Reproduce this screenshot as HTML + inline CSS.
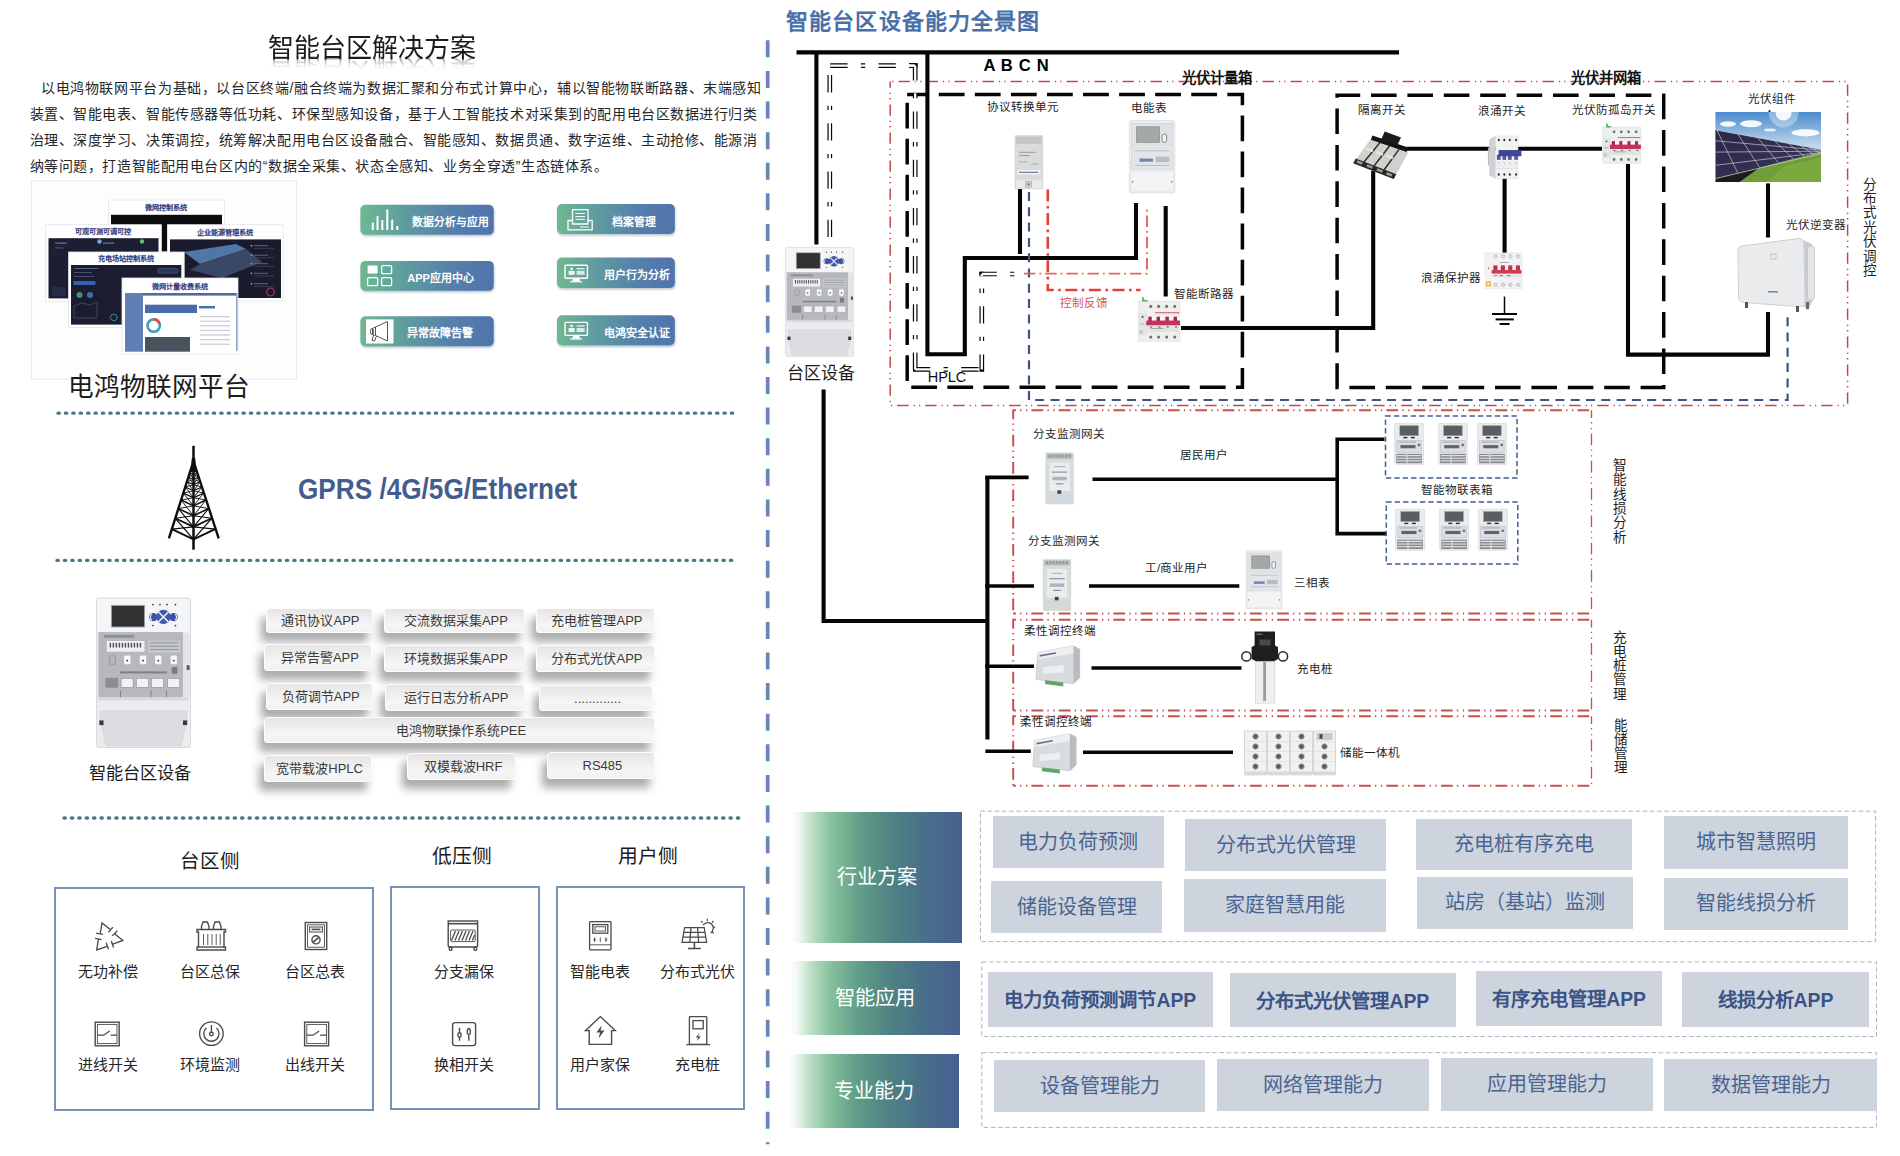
<!DOCTYPE html>
<html lang="zh-CN">
<head>
<meta charset="utf-8">
<title>智能台区解决方案</title>
<style>
html,body{margin:0;padding:0;background:#fff;}
body{width:1900px;height:1156px;overflow:hidden;position:relative;font-family:"Liberation Sans",sans-serif;}
#pg{position:absolute;left:0;top:0;width:1900px;height:1156px;overflow:hidden;background:#fff;}
svg.bg{position:absolute;left:0;top:0;}
.t{position:absolute;transform:translate(-50%,-50%);white-space:nowrap;line-height:1;}
.tl{position:absolute;transform:translate(0,-50%);white-space:nowrap;line-height:1;}
.pl{position:absolute;white-space:nowrap;line-height:1;font-size:14px;color:#262626;text-align:justify;text-align-last:justify;transform:translate(0,-50%);}
.chip{position:absolute;box-sizing:border-box;border:1px solid #fdfdfd;border-radius:4px;background:linear-gradient(#e7e5e5,#f6f6f6 70%,#f1f1f1);box-shadow:-5px 9px 8px rgba(70,70,70,.45);font-size:13px;color:#3a3a3a;text-align:center;white-space:nowrap;}
.gchip{position:absolute;background:#cdd4de;color:#4d6c9c;text-align:center;white-space:nowrap;font-size:19.5px;}
.glab{position:absolute;color:#fff;text-align:center;white-space:nowrap;font-size:20px;background:linear-gradient(90deg,#ffffff 0%,#f2f9f3 4%,#bfe0c8 12%,#86c09c 24%,#5f9c88 41%,#4f8283 59%,#48708a 78%,#46608f 100%);}
.dbox{position:absolute;box-sizing:border-box;border:1px dashed #b4bcc6;}
.bbox{position:absolute;box-sizing:border-box;border:2px solid #7590ba;}
</style>
</head>
<body>
<div id="pg">
<svg class="bg" width="1900" height="1156" viewBox="0 0 1900 1156">
<defs>
<linearGradient id="gbtn" x1="0" y1="0" x2="1" y2="0"><stop offset="0" stop-color="#6fb892"/><stop offset="0.35" stop-color="#5f9aa0"/><stop offset="0.7" stop-color="#557fac"/><stop offset="1" stop-color="#4f74ab"/></linearGradient>
<linearGradient id="gsky" x1="0" y1="0" x2="0" y2="1"><stop offset="0" stop-color="#4a8bcc"/><stop offset="0.55" stop-color="#cfe2f0"/><stop offset="1" stop-color="#e4eef5"/></linearGradient>
<linearGradient id="gpan" x1="0" y1="0" x2="1" y2="1"><stop offset="0" stop-color="#2a2747"/><stop offset="1" stop-color="#3a3658"/></linearGradient>
<linearGradient id="gdev" x1="0" y1="0" x2="1" y2="0"><stop offset="0" stop-color="#eef0f2"/><stop offset="1" stop-color="#d9dce0"/></linearGradient>
<filter id="sh" x="-10%" y="-20%" width="120%" height="150%"><feGaussianBlur stdDeviation="1.2"/></filter>
</defs>
<rect x="31.50" y="181.00" width="265.00" height="198.00" rx="0" fill="#fdfdfd" stroke="#e9e9ec" stroke-width="1" />
<rect x="108.40" y="200.00" width="116.00" height="26.00" rx="0" fill="#ffffff" stroke="#e3e4e8" stroke-width="0.8" />
<rect x="111.00" y="214.80" width="111.00" height="11.00" rx="0" fill="#0c0c10" />
<rect x="161.30" y="225.00" width="6.10" height="26.50" rx="0" fill="#0c0c10" />
<rect x="45.60" y="224.70" width="115.70" height="77.00" rx="0" fill="#ffffff" stroke="#e3e4e8" stroke-width="0.8" />
<rect x="48.50" y="238.20" width="110.00" height="60.20" rx="0" fill="#1c1e33" />
<circle cx="99.5" cy="241.5" r="2.2" fill="#7aa4e0"/><circle cx="142" cy="241.5" r="2.2" fill="#5fc07a"/>
<rect x="167.40" y="224.70" width="115.60" height="76.30" rx="0" fill="#ffffff" stroke="#e3e4e8" stroke-width="0.8" />
<rect x="170.00" y="239.40" width="111.00" height="58.60" rx="0" fill="#1a1c2e" />
<polygon points="184,252 236,244 246,249 200,264" fill="#4f78a8"/><polygon points="200,264 246,249 262,262 222,278 190,270" fill="#3b4767"/>
<circle cx="270.5" cy="292" r="4" fill="none" stroke="#d0506a" stroke-width="0.8"/>
<rect x="68.60" y="252.00" width="115.60" height="75.50" rx="0" fill="#ffffff" stroke="#e3e4e8" stroke-width="0.8" />
<rect x="71.00" y="265.00" width="110.30" height="59.60" rx="0" fill="#1b1c30" />
<circle cx="79.5" cy="295" r="3" fill="#3f8f7a"/><circle cx="90" cy="295" r="3" fill="#3f6f9f"/>
<rect x="73.5" y="281" width="22" height="4" fill="#3a5fb0"/>
<path d="M74 306 L82 303 L90 305 L97 302 L97 318 L74 318Z" fill="none" stroke="#566" stroke-width="0.6"/>
<rect x="122.00" y="278.00" width="116.00" height="76.00" rx="0" fill="#ffffff" stroke="#dfe1e6" stroke-width="0.8" />
<rect x="125.00" y="293.00" width="18.00" height="58.70" rx="0" fill="#5f7fb5" />
<rect x="143.00" y="293.00" width="93.00" height="2.60" rx="0" fill="#4d6aa5" />
<rect x="145.00" y="304.70" width="52.00" height="8.30" rx="0" fill="#4a6aa8" />
<rect x="145.00" y="337.00" width="45.00" height="14.70" rx="0" fill="#4a5260" />
<circle cx="153.7" cy="325.6" r="6.2" fill="none" stroke="#3fa0b8" stroke-width="2.6"/><path d="M153.7 319.4 A6.2 6.2 0 0 1 159.6 323.7" fill="none" stroke="#d85050" stroke-width="2.6"/>
<rect x="200.00" y="316.00" width="30.00" height="1.30" rx="0" fill="#c9ced8" />
<rect x="200.00" y="320.60" width="30.00" height="1.30" rx="0" fill="#c9ced8" />
<rect x="200.00" y="325.20" width="30.00" height="1.30" rx="0" fill="#c9ced8" />
<rect x="200.00" y="329.80" width="30.00" height="1.30" rx="0" fill="#c9ced8" />
<rect x="200.00" y="334.40" width="30.00" height="1.30" rx="0" fill="#c9ced8" />
<rect x="200.00" y="339.00" width="30.00" height="1.30" rx="0" fill="#c9ced8" />
<rect x="200.00" y="343.60" width="30.00" height="1.30" rx="0" fill="#c9ced8" />
<rect x="199.00" y="306.00" width="16.00" height="2.40" rx="0" fill="#4a6aa8" />
<rect x="236.00" y="293.00" width="1.50" height="58.00" rx="0" fill="#8aa0c8" />
<circle cx="251.5" cy="245.7" r="0.9" fill="#8fa0c8"/><rect x="254" y="245.2" width="14" height="1" fill="#5a6486"/><rect x="254" y="247.89999999999998" width="20" height="0.8" fill="#3c4463"/>
<circle cx="251.5" cy="255.2" r="0.9" fill="#8fa0c8"/><rect x="254" y="254.7" width="14" height="1" fill="#5a6486"/><rect x="254" y="257.4" width="20" height="0.8" fill="#3c4463"/>
<circle cx="251.5" cy="263.7" r="0.9" fill="#8fa0c8"/><rect x="254" y="263.2" width="14" height="1" fill="#5a6486"/><rect x="254" y="265.9" width="20" height="0.8" fill="#3c4463"/>
<circle cx="251.5" cy="273.3" r="0.9" fill="#8fa0c8"/><rect x="254" y="272.8" width="14" height="1" fill="#5a6486"/><rect x="254" y="275.5" width="20" height="0.8" fill="#3c4463"/>
<circle cx="251.5" cy="283.7" r="0.9" fill="#8fa0c8"/><rect x="254" y="283.2" width="14" height="1" fill="#5a6486"/><rect x="254" y="285.9" width="20" height="0.8" fill="#3c4463"/>
<rect x="157.5" y="268.4" width="21" height="4.8" rx="2.2" fill="#2a3658" stroke="#5a6a9a" stroke-width="0.5"/>
<circle cx="113.8" cy="317.4" r="3.3" fill="none" stroke="#3f9a9a" stroke-width="0.9"/>
<rect x="74" y="268" width="24" height="1" fill="#56608a"/><rect x="74" y="272" width="18" height="1" fill="#454d74"/><rect x="74" y="276" width="20" height="1" fill="#454d74"/>
<rect x="55" y="242.6" width="12" height="1" fill="#7d86ab"/><rect x="55" y="247.5" width="8" height="0.9" fill="#5c648a"/><rect x="103" y="242.6" width="11" height="1" fill="#7d86ab"/>
<rect x="52" y="287" width="14" height="9" fill="#262b48"/>
<rect x="361.0" y="206.4" width="133.3" height="29.9" rx="5" fill="#5f7890" opacity=".45" filter="url(#sh)"/>
<rect x="360.4" y="204.8" width="133.3" height="29.9" rx="5" fill="url(#gbtn)"/>
<rect x="361.0" y="262.5" width="133.3" height="29.8" rx="5" fill="#5f7890" opacity=".45" filter="url(#sh)"/>
<rect x="360.4" y="260.9" width="133.3" height="29.8" rx="5" fill="url(#gbtn)"/>
<rect x="361.0" y="317.90000000000003" width="133.3" height="29.9" rx="5" fill="#5f7890" opacity=".45" filter="url(#sh)"/>
<rect x="360.4" y="316.3" width="133.3" height="29.9" rx="5" fill="url(#gbtn)"/>
<rect x="557.6" y="205.6" width="117.8" height="30" rx="5" fill="#5f7890" opacity=".45" filter="url(#sh)"/>
<rect x="557" y="204" width="117.8" height="30" rx="5" fill="url(#gbtn)"/>
<rect x="557.6" y="259.20000000000005" width="117.8" height="30.4" rx="5" fill="#5f7890" opacity=".45" filter="url(#sh)"/>
<rect x="557" y="257.6" width="117.8" height="30.4" rx="5" fill="url(#gbtn)"/>
<rect x="557.6" y="316.90000000000003" width="117.8" height="30" rx="5" fill="#5f7890" opacity=".45" filter="url(#sh)"/>
<rect x="557" y="315.3" width="117.8" height="30" rx="5" fill="url(#gbtn)"/>
<rect x="371.8" y="222.5" width="2" height="7.5" rx="0.6" fill="#fff"/>
<rect x="376.5" y="216" width="2" height="14.0" rx="0.6" fill="#fff"/>
<rect x="381.3" y="220" width="2" height="10.0" rx="0.6" fill="#fff"/>
<rect x="386.3" y="209.6" width="2" height="20.4" rx="0.6" fill="#fff"/>
<rect x="391.2" y="219.5" width="2" height="10.5" rx="0.6" fill="#fff"/>
<rect x="396.3" y="226" width="2" height="4.0" rx="0.6" fill="#fff"/>
<rect x="367.6" y="265.6" width="10" height="8" rx="1" fill="#fff"/>
<rect x="381.6" y="265.6" width="10" height="8" rx="1.2" fill="none" stroke="#fff" stroke-width="1.3"/>
<rect x="367.6" y="277.6" width="10" height="8" rx="1.2" fill="none" stroke="#fff" stroke-width="1.3"/>
<rect x="381.6" y="277.6" width="10" height="8" rx="1.2" fill="none" stroke="#fff" stroke-width="1.3"/>
<rect x="366.00" y="319.40" width="27.50" height="24.10" rx="0" fill="#ffffff" />
<g fill="none" stroke="#555" stroke-width="1" stroke-linejoin="round"><path d="M372.5 328.5 L375.5 327 L387.5 321.5 L387.5 341 L375.5 335.5 L372.5 334.5 Z"/><path d="M375.5 327 V335.5"/><path d="M373.5 335 L372 340.5 L374.5 341 L376.5 336"/><ellipse cx="372" cy="331.5" rx="1.6" ry="3"/></g>
<g fill="none" stroke="#fff" stroke-width="1.3" stroke-linejoin="round"><path d="M572.5 221 V209.6 H588 V221"/><path d="M575.5 213.5 H585 M575.5 216.5 H585 M575.5 219.3 H585" stroke-width="1"/><path d="M568 220.5 H572.5 V224 H588 V220.5 H592.2 V229.8 H568 Z"/><path d="M580 227 H589" stroke-width="1"/></g>
<g><rect x="565" y="265.2" width="22.4" height="13" rx="0.8" fill="none" stroke="#fff" stroke-width="1.4"/><path d="M573.2 278.8 H579.2 L580.2 281.2 H572.2 Z" fill="#fff"/><rect x="570.2" y="281.2" width="12" height="1.2" fill="#fff"/><circle cx="571.6" cy="268.8" r="1.2" fill="#fff"/><rect x="568.6" y="270.8" width="6" height="4" fill="#fff" opacity=".9"/><rect x="576.6" y="268.2" width="8" height="1.1" fill="#fff"/><rect x="576.6" y="270.8" width="8" height="4" fill="#fff" opacity=".75"/></g>
<g><rect x="565" y="322.4" width="22.4" height="13" rx="0.8" fill="none" stroke="#fff" stroke-width="1.4"/><path d="M573.2 336.0 H579.2 L580.2 338.4 H572.2 Z" fill="#fff"/><rect x="570.2" y="338.4" width="12" height="1.2" fill="#fff"/><circle cx="571.6" cy="326.0" r="1.2" fill="#fff"/><rect x="568.6" y="328.0" width="6" height="4" fill="#fff" opacity=".9"/><rect x="576.6" y="325.4" width="8" height="1.1" fill="#fff"/><rect x="576.6" y="328.0" width="8" height="4" fill="#fff" opacity=".75"/></g>
<path d="M767.7 40.3 L767.7 1144.2" fill="none" stroke="#6886b6" stroke-width="3.7" stroke-linecap="butt" stroke-linejoin="miter" stroke-dasharray="17 13.61" />
<path d="M58 413.2 L734 413.2" fill="none" stroke="#4b7a82" stroke-width="3.3" stroke-linecap="round" stroke-linejoin="miter" stroke-dasharray="1.3 6.1" />
<path d="M57 560.4 L733 560.4" fill="none" stroke="#4b7a82" stroke-width="3.3" stroke-linecap="round" stroke-linejoin="miter" stroke-dasharray="1.3 6.1" />
<path d="M64 818 L739.5 818" fill="none" stroke="#4b7a82" stroke-width="3.3" stroke-linecap="round" stroke-linejoin="miter" stroke-dasharray="1.3 6.1" />
<g fill="none" stroke="#0d0d0d" stroke-linecap="butt" stroke-linejoin="round"><path d="M193.5 445.8 V549.7" stroke-width="2.5"/><path d="M191.9 458 L195.1 458 L196.9 472 L190.1 472 Z" fill="#0d0d0d" stroke="none"/><path d="M191.9 466 L168.9 538.4 M195.1 466 L218.7 538.4" stroke-width="2.4"/><path d="M189.8 472.5 L193.5 474.1 L197.2 472.5" stroke-width="1.01"/><path d="M189.8 472.5 L193.5 479.3 M197.2 472.5 L193.5 479.3" stroke-width="0.90"/><path d="M193.5 474.1 L188.4 477 M193.5 474.1 L198.6 477" stroke-width="0.90"/><path d="M188.4 477 L193.5 479.3 L198.6 477" stroke-width="1.08"/><path d="M188.4 477 L193.5 484.8 M198.6 477 L193.5 484.8" stroke-width="0.90"/><path d="M193.5 479.3 L186.9 481.8 M193.5 479.3 L200.1 481.8" stroke-width="0.90"/><path d="M186.9 481.8 L193.5 484.8 L200.1 481.8" stroke-width="1.15"/><path d="M186.9 481.8 L193.5 490.8 M200.1 481.8 L193.5 490.8" stroke-width="0.90"/><path d="M193.5 484.8 L185.2 487 M193.5 484.8 L201.8 487" stroke-width="0.90"/><path d="M185.2 487 L193.5 490.8 L201.8 487" stroke-width="1.24"/><path d="M185.2 487 L193.5 497.8 M201.8 487 L193.5 497.8" stroke-width="0.90"/><path d="M193.5 490.8 L183.3 493 M193.5 490.8 L203.7 493" stroke-width="0.90"/><path d="M183.3 493 L193.5 497.8 L203.7 493" stroke-width="1.33"/><path d="M183.3 493 L193.5 505.8 M203.7 493 L193.5 505.8" stroke-width="0.90"/><path d="M193.5 497.8 L181.1 500 M193.5 497.8 L205.9 500" stroke-width="0.90"/><path d="M181.1 500 L193.5 505.8 L205.9 500" stroke-width="1.44"/><path d="M181.1 500 L193.5 515.8 M205.9 500 L193.5 515.8" stroke-width="0.94"/><path d="M193.5 505.8 L178.4 508.6 M193.5 505.8 L208.6 508.6" stroke-width="0.94"/><path d="M178.4 508.6 L193.5 515.8 L208.6 508.6" stroke-width="1.58"/><path d="M178.4 508.6 L193.5 526.9 M208.6 508.6 L193.5 526.9" stroke-width="1.08"/><path d="M193.5 515.8 L175.3 518.3 M193.5 515.8 L211.7 518.3" stroke-width="1.08"/><path d="M175.3 518.3 L193.5 526.9 L211.7 518.3" stroke-width="1.73"/><path d="M175.3 518.3 L193.5 539.4 M211.7 518.3 L193.5 539.4" stroke-width="1.23"/><path d="M193.5 526.9 L171.9 529.1 M193.5 526.9 L215.1 529.1" stroke-width="1.23"/><path d="M171.9 529.1 L193.5 539.4 L215.1 529.1" stroke-width="1.90"/></g>
<g transform="translate(96.5,598) scale(0.94,0.934375)"><rect x="0" y="0" width="100" height="160" rx="2" fill="#ececef" stroke="#d0d2d6" stroke-width="0.8"/><rect x="1" y="1" width="98" height="35.5" fill="#f4f5f7"/><rect x="16" y="8" width="35" height="23" fill="#2f3133" stroke="#9a9c9f" stroke-width="1"/><circle cx="60.5" cy="20.5" r="4.4" fill="#3c52a0"/><circle cx="82" cy="20.5" r="4.4" fill="#3c52a0"/><ellipse cx="71.2" cy="20.3" rx="7.6" ry="7.6" fill="#4059ab"/><path d="M66 15 L76.4 25.6 M76.4 15 L66 25.6" stroke="#e8ebf6" stroke-width="1.7"/><path d="M59 17.5 A3.5 3.5 0 0 0 59 23.5 M83.5 17.5 A3.5 3.5 0 0 1 83.5 23.5" stroke="#e8ebf6" stroke-width="1.2" fill="none"/><circle cx="60" cy="7" r="0.9" fill="#334"/><circle cx="67.5" cy="7" r="0.9" fill="#334"/><circle cx="75" cy="7" r="0.9" fill="#334"/><circle cx="84" cy="7" r="0.9" fill="#334"/><circle cx="60" cy="29.5" r="0.9" fill="#334"/><circle cx="84" cy="29.5" r="0.9" fill="#334"/><rect x="2" y="36.5" width="90" height="70" fill="#b6b8bc"/><rect x="92" y="38" width="7" height="68" fill="#e3e4e7"/><rect x="96" y="72" width="3" height="5" fill="#555"/><rect x="11" y="46" width="40" height="11.5" fill="#eeeff1"/><rect x="55" y="45.5" width="34" height="13" fill="#c6c8cc"/><rect x="8" y="39.5" width="32" height="3" fill="#8d9096"/><rect x="14.0" y="48" width="1.5" height="5" fill="#4a4c50"/><rect x="17.2" y="48" width="1.5" height="5" fill="#4a4c50"/><rect x="20.4" y="48" width="1.5" height="5" fill="#4a4c50"/><rect x="23.6" y="48" width="1.5" height="5" fill="#4a4c50"/><rect x="26.8" y="48" width="1.5" height="5" fill="#4a4c50"/><rect x="30.0" y="48" width="1.5" height="5" fill="#4a4c50"/><rect x="33.2" y="48" width="1.5" height="5" fill="#4a4c50"/><rect x="36.400000000000006" y="48" width="1.5" height="5" fill="#4a4c50"/><rect x="39.6" y="48" width="1.5" height="5" fill="#4a4c50"/><rect x="42.8" y="48" width="1.5" height="5" fill="#4a4c50"/><rect x="46.0" y="48" width="1.5" height="5" fill="#4a4c50"/><rect x="57" y="47.5" width="30" height="1" fill="#8f9298"/><rect x="57" y="51.1" width="30" height="1" fill="#8f9298"/><rect x="57" y="54.7" width="30" height="1" fill="#8f9298"/><rect x="14" y="62" width="6" height="9" rx="1" fill="none" stroke="#8a8d92" stroke-width="0.8"/><rect x="29.300000000000004" y="61.5" width="6.8" height="9.5" rx="1.5" fill="#f6f7f8"/><circle cx="32.7" cy="67" r="1" fill="#333"/><rect x="46.1" y="61.5" width="6.8" height="9.5" rx="1.5" fill="#f6f7f8"/><circle cx="49.5" cy="67" r="1" fill="#333"/><rect x="62.300000000000004" y="61.5" width="6.8" height="9.5" rx="1.5" fill="#f6f7f8"/><circle cx="65.7" cy="67" r="1" fill="#333"/><rect x="78.8" y="61.5" width="6.8" height="9.5" rx="1.5" fill="#f6f7f8"/><circle cx="82.2" cy="67" r="1" fill="#333"/><rect x="25" y="78.5" width="50" height="2.2" fill="#7e8187"/><rect x="80" y="74" width="6" height="7" fill="#777a80"/><rect x="9.5" y="85.5" width="13.5" height="10.5" fill="#8b8d92"/><rect x="26.2" y="86" width="12.8" height="9.6" fill="#f1f2f4" stroke="#8c8f95" stroke-width="0.6"/><rect x="42.4" y="86" width="12.8" height="9.6" fill="#f1f2f4" stroke="#8c8f95" stroke-width="0.6"/><rect x="58.5" y="86" width="12.8" height="9.6" fill="#f1f2f4" stroke="#8c8f95" stroke-width="0.6"/><rect x="75.8" y="86" width="12.8" height="9.6" fill="#f1f2f4" stroke="#8c8f95" stroke-width="0.6"/><rect x="25" y="99" width="0.9" height="9" fill="#777"/><rect x="57.5" y="99" width="0.9" height="9" fill="#777"/><rect x="74" y="99" width="0.9" height="9" fill="#777"/><rect x="1" y="106.5" width="98" height="52.5" fill="#ececee"/><path d="M4 121 H96 V132 L90 158 H10 L4 132 Z" fill="#dcdde0" stroke="#cfd1d5" stroke-width="0.8"/><rect x="2" y="106.5" width="96" height="3" fill="#d6d8dc"/><rect x="3" y="131" width="4.5" height="5" fill="#3a3a3c"/><rect x="92" y="131" width="4.5" height="5" fill="#3a3a3c"/></g>
<g fill="none" stroke="#4a4a4a" stroke-width="1.35" stroke-linejoin="miter" stroke-linecap="butt"><path d="M110.3 929.5 L102 923 L100.2 933.4"/><path d="M108.3 932.4 L112.9 927.2"/><path d="M96.2 933.2 L102.9 934.4"/><path d="M114.9 933.9 L122.9 940.4 L112.7 944.1"/><path d="M112.3 935.9 L117.3 930.8"/><path d="M111.3 941 L113.6 947.5"/><path d="M98.4 939.2 L96.7 949.9 L107.1 946.3"/><path d="M95.1 938.3 L101.6 939.7"/><path d="M106.2 942.6 L108.5 949.2"/></g>
<g fill="none" stroke="#4a4a4a" stroke-width="1.4" stroke-linejoin="miter" stroke-linecap="butt"><path d="M197 929.5 H225.5 V932 H224 V947 H225.5 V950 H197 V947 H198.5 V932 H197 Z"/><path d="M198.5 947 H224"/><path d="M201.5 929.5 V926.5 L203 922 H207.5 L209 926.5 V929.5 M213.5 929.5 V926.5 L215 922 H219.5 L221 926.5 V929.5"/><path d="M203.5 934 V945 M207.8 934 V945 M212 934 V945 M216.2 934 V945 M220.2 934 V945" stroke-width="0.9"/></g>
<g fill="none" stroke="#4a4a4a" stroke-width="1.4" stroke-linejoin="miter" stroke-linecap="butt"><rect x="305.3" y="922.5" width="21.4" height="27"/><rect x="307.6" y="924.8" width="16.8" height="22.4" stroke-width="0.9"/><rect x="309.6" y="927" width="12.8" height="5" stroke-width="1"/><rect x="311.5" y="928.6" width="9" height="1.6" fill="#4a4a4a" stroke="none"/><circle cx="316" cy="939.8" r="4.1"/><path d="M313.2 942.2 L318.8 937.4" stroke-width="1.6"/></g>
<g fill="none" stroke="#4a4a4a" stroke-width="1.4" stroke-linejoin="miter" stroke-linecap="butt"><rect x="95.2" y="1022.2" width="24" height="23.6"/><rect x="97.4" y="1024.4" width="19.6" height="19.2" stroke-width="0.9"/><path d="M97.4 1035.2 H103.7 L109.7 1031.0 M110.7 1035.2 H117.0" stroke-width="1.3"/></g>
<g fill="none" stroke="#4a4a4a" stroke-width="1.4" stroke-linejoin="miter" stroke-linecap="butt"><rect x="304.6" y="1022.2" width="24" height="23.6"/><rect x="306.8" y="1024.4" width="19.6" height="19.2" stroke-width="0.9"/><path d="M306.8 1035.2 H313.1 L319.1 1031.0 M320.1 1035.2 H326.40000000000003" stroke-width="1.3"/></g>
<g fill="none" stroke="#4a4a4a" stroke-width="1.35" stroke-linejoin="miter" stroke-linecap="butt"><circle cx="211.4" cy="1033.6" r="11.8"/><path d="M206.3 1028 A7.6 7.6 0 1 0 216.5 1028"/><path d="M211.4 1025 V1032"/><circle cx="211.4" cy="1034" r="1.8"/></g>
<g fill="none" stroke="#4a4a4a" stroke-width="1.4" stroke-linejoin="miter" stroke-linecap="butt"><rect x="448.2" y="921" width="29.4" height="2.6"/><rect x="448.2" y="923.6" width="29.4" height="23.4" rx="1.5"/><rect x="450.6" y="930" width="24.6" height="11.6" rx="1" stroke-width="0.9"/><path d="M451.5 940.5 L455.5 931 M455 940.5 L459 931 M458.5 940.5 L462.5 931 M462 940.5 L466 931 M465.5 940.5 L469.5 931 M469 940.5 L473 931 M472.4 940.5 L474.6 935" stroke-width="1.3"/><rect x="449.3" y="947" width="2.6" height="3.4" rx="1.2"/><rect x="474" y="947" width="2.6" height="3.4" rx="1.2"/></g>
<g fill="none" stroke="#4a4a4a" stroke-width="1.4" stroke-linejoin="miter" stroke-linecap="butt"><rect x="452.6" y="1022.6" width="23" height="23" rx="2.6"/><path d="M459.5 1027.8 V1032.8 M459.5 1037.2 V1040.8 M468.8 1027.8 V1029 M468.8 1034.4 V1040.8"/><rect x="458" y="1032.8" width="3" height="4.4" rx="1.4"/><rect x="467.3" y="1029" width="3" height="5.4" rx="1.4"/></g>
<g fill="none" stroke="#4a4a4a" stroke-width="1.3" stroke-linejoin="miter" stroke-linecap="butt"><rect x="589.6" y="921.6" width="21.4" height="28.2" rx="0.8"/><rect x="592.8" y="924.6" width="15" height="8.6"/><rect x="595" y="926.8" width="10.6" height="4.2" stroke-width="0.9"/><path d="M589.6 944.8 H611" stroke-width="0.9"/><path d="M594.6 937.4 V942 M600.3 937.4 V942 M606 937.4 V942" stroke-width="0.9"/><circle cx="594.6" cy="939.6" r="0.9" stroke-width="0.7"/><circle cx="606" cy="939.6" r="0.9" stroke-width="0.7"/></g>
<g fill="none" stroke="#4a4a4a" stroke-width="1.25" stroke-linejoin="miter" stroke-linecap="butt"><path d="M684.6 927.6 H704.2 L706.6 942.4 H682 Z"/><path d="M683.8 932.4 H705 M683 937.2 H705.8 M691 927.6 L689.8 942.4 M697.6 927.6 L698.6 942.4"/><path d="M694.4 942.4 V948 M688 948.4 H700.8" stroke-width="1.5"/><path d="M703 925.2 A5.6 5.6 0 1 1 710.6 933"/><path d="M707.3 918.8 V921 M701.2 921 L702.6 922.6 M713.4 921 L712 922.6 M715.2 927 H713.2 M713.6 933.4 L712.2 932"/></g>
<g fill="none" stroke="#4a4a4a" stroke-width="1.4" stroke-linejoin="miter" stroke-linecap="butt"><path d="M585.6 1030.6 L600.4 1016.6 L615.2 1030.6 H611.6 V1044.4 H589.2 V1030.6 Z"/></g>
<path d="M601.6 1025.4 L596.4 1032.6 H600 L598.6 1038.4 L604.4 1030.6 H600.6 Z" fill="#4a4a4a"/>
<g fill="none" stroke="#4a4a4a" stroke-width="1.3" stroke-linejoin="miter" stroke-linecap="butt"><rect x="689.4" y="1016.6" width="17.4" height="27.8" rx="0.8"/><rect x="693" y="1020.6" width="10.2" height="8.2"/><path d="M686.4 1044.6 H710.2"/></g>
<path d="M699 1033.4 L695.8 1037.6 H698 L697.2 1041 L700.8 1036.4 H698.4 Z" fill="#4a4a4a"/>
<rect x="890.20" y="81.50" width="957.40" height="323.90" rx="0" fill="none" stroke="#bd4a46" stroke-width="1.5" stroke-dasharray="11.4 5 1.3 4 1.3 5" stroke-dashoffset="19.7"/>
<path d="M1013.2 613.6 L1013.2 410.2 L1591.5 410.2" fill="none" stroke="#c6504c" stroke-width="2.0" stroke-linecap="butt" stroke-linejoin="miter" stroke-dasharray="11.7 4.2 1.3 4.6 1.3 4.2" stroke-dashoffset="24.00"/>
<path d="M1013.2 613.6 L1591.5 613.6" fill="none" stroke="#c6504c" stroke-width="2.0" stroke-linecap="butt" stroke-linejoin="miter" stroke-dasharray="11.7 4.2 1.3 4.6 1.3 4.2" stroke-dashoffset="9"/>
<path d="M1591.5 410.2 L1591.5 613.6" fill="none" stroke="#c6504c" stroke-width="1.3" stroke-linecap="butt" stroke-linejoin="miter" stroke-dasharray="11.7 4.2 1.3 4.6 1.3 4.2" stroke-dashoffset="4"/>
<path d="M1013.2 710.5 L1013.2 619.8 L1591.5 619.8" fill="none" stroke="#c6504c" stroke-width="2.0" stroke-linecap="butt" stroke-linejoin="miter" stroke-dasharray="11.7 4.2 1.3 4.6 1.3 4.2" stroke-dashoffset="0.20"/>
<path d="M1013.2 710.5 L1591.5 710.5" fill="none" stroke="#c6504c" stroke-width="2.0" stroke-linecap="butt" stroke-linejoin="miter" stroke-dasharray="11.7 4.2 1.3 4.6 1.3 4.2" stroke-dashoffset="9"/>
<path d="M1591.5 619.8 L1591.5 710.5" fill="none" stroke="#c6504c" stroke-width="1.3" stroke-linecap="butt" stroke-linejoin="miter" stroke-dasharray="11.7 4.2 1.3 4.6 1.3 4.2" stroke-dashoffset="4"/>
<path d="M1013.2 785.8 L1013.2 716.2 L1591.5 716.2" fill="none" stroke="#c6504c" stroke-width="2.0" stroke-linecap="butt" stroke-linejoin="miter" stroke-dasharray="11.7 4.2 1.3 4.6 1.3 4.2" stroke-dashoffset="21.30"/>
<path d="M1013.2 785.8 L1591.5 785.8" fill="none" stroke="#c6504c" stroke-width="2.0" stroke-linecap="butt" stroke-linejoin="miter" stroke-dasharray="11.7 4.2 1.3 4.6 1.3 4.2" stroke-dashoffset="9"/>
<path d="M1591.5 716.2 L1591.5 785.8" fill="none" stroke="#c6504c" stroke-width="1.3" stroke-linecap="butt" stroke-linejoin="miter" stroke-dasharray="11.7 4.2 1.3 4.6 1.3 4.2" stroke-dashoffset="4"/>
<rect x="907.20" y="94.40" width="335.20" height="292.80" rx="0" fill="none" stroke="#050505" stroke-width="3.5" stroke-dasharray="25.8 10.27" stroke-dashoffset="4.5"/>
<rect x="1337.10" y="95.20" width="326.60" height="292.20" rx="0" fill="none" stroke="#050505" stroke-width="3.5" stroke-dasharray="25.6 10.8" stroke-dashoffset="2.5"/>
<path d="M796.5 52.4 L1399 52.4" fill="none" stroke="#050505" stroke-width="4.1" stroke-linecap="butt" stroke-linejoin="miter" />
<path d="M816.4 52 L816.4 244.5" fill="none" stroke="#050505" stroke-width="4.1" stroke-linecap="butt" stroke-linejoin="miter" />
<path d="M927.4 52 L927.4 354.3 L964.8 354.3 L964.8 258 L1136 258 L1136 203" fill="none" stroke="#050505" stroke-width="4.1" stroke-linecap="butt" stroke-linejoin="miter" />
<path d="M1020 189 L1020 254" fill="none" stroke="#050505" stroke-width="4.1" stroke-linecap="butt" stroke-linejoin="miter" />
<path d="M1165.7 206 L1165.7 296.5" fill="none" stroke="#050505" stroke-width="4.1" stroke-linecap="butt" stroke-linejoin="miter" />
<path d="M1181 328 L1373.2 328 L1373.2 171" fill="none" stroke="#050505" stroke-width="4.1" stroke-linecap="butt" stroke-linejoin="miter" />
<path d="M1406.5 148.8 L1602 148.8" fill="none" stroke="#050505" stroke-width="4.1" stroke-linecap="butt" stroke-linejoin="miter" />
<path d="M1504.6 178.5 L1504.6 253" fill="none" stroke="#050505" stroke-width="4.1" stroke-linecap="butt" stroke-linejoin="miter" />
<path d="M1628 164 L1628 354.6 L1768 354.6 L1768 312" fill="none" stroke="#050505" stroke-width="4.1" stroke-linecap="butt" stroke-linejoin="miter" />
<path d="M1768 183.4 L1768 237.5" fill="none" stroke="#050505" stroke-width="4.1" stroke-linecap="butt" stroke-linejoin="miter" />
<path d="M1504.5 296.5 L1504.5 314" fill="none" stroke="#050505" stroke-width="1.5" stroke-linecap="butt" stroke-linejoin="miter" />
<path d="M1492 314 L1517 314" fill="none" stroke="#050505" stroke-width="2" stroke-linecap="butt" stroke-linejoin="miter" />
<path d="M1495.6 319.4 L1513.8 319.4" fill="none" stroke="#050505" stroke-width="2" stroke-linecap="butt" stroke-linejoin="miter" />
<path d="M1499.6 324 L1509.6 324" fill="none" stroke="#050505" stroke-width="2" stroke-linecap="butt" stroke-linejoin="miter" />
<path d="M823.6 389.5 L823.6 621 L987.4 621" fill="none" stroke="#050505" stroke-width="4.1" stroke-linecap="butt" stroke-linejoin="miter" />
<path d="M987.4 476 L987.4 739.6" fill="none" stroke="#050505" stroke-width="4.1" stroke-linecap="butt" stroke-linejoin="miter" />
<path d="M985.2 477.4 L1028.6 477.4" fill="none" stroke="#050505" stroke-width="3.6" stroke-linecap="butt" stroke-linejoin="miter" />
<path d="M985.2 586 L1034 586" fill="none" stroke="#050505" stroke-width="3.6" stroke-linecap="butt" stroke-linejoin="miter" />
<path d="M985.2 666.2 L1034 666.2" fill="none" stroke="#050505" stroke-width="3.6" stroke-linecap="butt" stroke-linejoin="miter" />
<path d="M985.4 751.2 L1030.8 751.2" fill="none" stroke="#050505" stroke-width="3.6" stroke-linecap="butt" stroke-linejoin="miter" />
<path d="M1092.5 479.2 L1337.2 479.2" fill="none" stroke="#050505" stroke-width="3.6" stroke-linecap="butt" stroke-linejoin="miter" />
<path d="M1384.5 439.2 L1337.2 439.2 L1337.2 533.6 L1386 533.6" fill="none" stroke="#050505" stroke-width="3.6" stroke-linecap="butt" stroke-linejoin="miter" />
<path d="M1089 586 L1239.3 586" fill="none" stroke="#050505" stroke-width="3.6" stroke-linecap="butt" stroke-linejoin="miter" />
<path d="M1091.5 668 L1241.5 668" fill="none" stroke="#050505" stroke-width="3.6" stroke-linecap="butt" stroke-linejoin="miter" />
<path d="M1083 752.2 L1233 752.2" fill="none" stroke="#050505" stroke-width="3.6" stroke-linecap="butt" stroke-linejoin="miter" />
<path d="M830.3 65.6 L917.5 65.6" fill="none" stroke="#050505" stroke-width="4.7" stroke-linecap="butt" stroke-linejoin="miter" stroke-dasharray="17.3 13.3 4.3 13.3" />
<path d="M915.2 63.3 L915.2 371.7" fill="none" stroke="#050505" stroke-width="4.7" stroke-linecap="butt" stroke-linejoin="miter" stroke-dasharray="17.3 13.3 4.3 13.3" />
<path d="M913 369.4 L984.1 369.4" fill="none" stroke="#050505" stroke-width="4.7" stroke-linecap="butt" stroke-linejoin="miter" stroke-dasharray="17.3 13.3 4.3 13.3" />
<path d="M981.8 371.7 L981.8 271.7" fill="none" stroke="#050505" stroke-width="4.7" stroke-linecap="butt" stroke-linejoin="miter" stroke-dasharray="17.3 13.3 4.3 13.3" />
<path d="M979.5 274 L1024 274" fill="none" stroke="#050505" stroke-width="4.7" stroke-linecap="butt" stroke-linejoin="miter" stroke-dasharray="17.3 13.3 4.3 13.3" />
<path d="M829.8 75.1 L829.8 237" fill="none" stroke="#050505" stroke-width="4.7" stroke-linecap="butt" stroke-linejoin="miter" stroke-dasharray="17.3 13.3 4.3 13.3" />
<path d="M909 65.6 L917.5 65.6" fill="none" stroke="#050505" stroke-width="4.7" stroke-linecap="butt" stroke-linejoin="miter" />
<path d="M830.3 65.6 L915.2 65.6" fill="none" stroke="#fff" stroke-width="2.3" stroke-linecap="butt" stroke-linejoin="miter" stroke-dasharray="18.7 11.9 5.7 11.9" stroke-dashoffset="0.7"/>
<path d="M915.2 65.6 L915.2 369.4" fill="none" stroke="#fff" stroke-width="2.3" stroke-linecap="butt" stroke-linejoin="miter" stroke-dasharray="18.7 11.9 5.7 11.9" stroke-dashoffset="3.0"/>
<path d="M915.2 369.4 L981.8 369.4" fill="none" stroke="#fff" stroke-width="2.3" stroke-linecap="butt" stroke-linejoin="miter" stroke-dasharray="18.7 11.9 5.7 11.9" stroke-dashoffset="2.9"/>
<path d="M981.8 369.4 L981.8 274" fill="none" stroke="#fff" stroke-width="2.3" stroke-linecap="butt" stroke-linejoin="miter" stroke-dasharray="18.7 11.9 5.7 11.9" stroke-dashoffset="3.0"/>
<path d="M981.8 274 L1024 274" fill="none" stroke="#fff" stroke-width="2.3" stroke-linecap="butt" stroke-linejoin="miter" stroke-dasharray="18.7 11.9 5.7 11.9" stroke-dashoffset="3.0"/>
<path d="M829.8 75.1 L829.8 237" fill="none" stroke="#fff" stroke-width="2.3" stroke-linecap="butt" stroke-linejoin="miter" stroke-dasharray="18.7 11.9 5.7 11.9" stroke-dashoffset="0.7"/>
<path d="M909 65.6 L915.2 65.6" fill="none" stroke="#fff" stroke-width="2.3" stroke-linecap="butt" stroke-linejoin="miter" />
<path d="M1029 192 L1029 400 L1787.6 400 L1787.6 314" fill="none" stroke="#3d5286" stroke-width="2.2" stroke-linecap="butt" stroke-linejoin="miter" stroke-dasharray="9 6.3" />
<path d="M1047.8 189.5 L1047.8 290 L1140.5 290" fill="none" stroke="#e2403a" stroke-width="2.6" stroke-linecap="butt" stroke-linejoin="miter" stroke-dasharray="12 4.5 2.6 4.5" />
<path d="M1024 273.6 L1147 273.6 L1147 207" fill="none" stroke="#e8645e" stroke-width="1.9" stroke-linecap="butt" stroke-linejoin="miter" stroke-dasharray="11.4 4 1.8 4" />
<rect x="1385.50" y="416.00" width="131.50" height="62.00" rx="0" fill="none" stroke="#40608f" stroke-width="1.5" stroke-dasharray="5.4 3" />
<rect x="1386.30" y="502.00" width="131.50" height="62.00" rx="0" fill="none" stroke="#40608f" stroke-width="1.5" stroke-dasharray="5.4 3" />
<g transform="translate(785.4,247.4) scale(0.682,0.68125)"><rect x="0" y="0" width="100" height="160" rx="2" fill="#ececef" stroke="#d0d2d6" stroke-width="0.8"/><rect x="1" y="1" width="98" height="35.5" fill="#f4f5f7"/><rect x="16" y="8" width="35" height="23" fill="#2f3133" stroke="#9a9c9f" stroke-width="1"/><circle cx="60.5" cy="20.5" r="4.4" fill="#3c52a0"/><circle cx="82" cy="20.5" r="4.4" fill="#3c52a0"/><ellipse cx="71.2" cy="20.3" rx="7.6" ry="7.6" fill="#4059ab"/><path d="M66 15 L76.4 25.6 M76.4 15 L66 25.6" stroke="#e8ebf6" stroke-width="1.7"/><path d="M59 17.5 A3.5 3.5 0 0 0 59 23.5 M83.5 17.5 A3.5 3.5 0 0 1 83.5 23.5" stroke="#e8ebf6" stroke-width="1.2" fill="none"/><circle cx="60" cy="7" r="0.9" fill="#334"/><circle cx="67.5" cy="7" r="0.9" fill="#334"/><circle cx="75" cy="7" r="0.9" fill="#334"/><circle cx="84" cy="7" r="0.9" fill="#334"/><circle cx="60" cy="29.5" r="0.9" fill="#334"/><circle cx="84" cy="29.5" r="0.9" fill="#334"/><rect x="2" y="36.5" width="90" height="70" fill="#b6b8bc"/><rect x="92" y="38" width="7" height="68" fill="#e3e4e7"/><rect x="96" y="72" width="3" height="5" fill="#555"/><rect x="11" y="46" width="40" height="11.5" fill="#eeeff1"/><rect x="55" y="45.5" width="34" height="13" fill="#c6c8cc"/><rect x="8" y="39.5" width="32" height="3" fill="#8d9096"/><rect x="14.0" y="48" width="1.5" height="5" fill="#4a4c50"/><rect x="17.2" y="48" width="1.5" height="5" fill="#4a4c50"/><rect x="20.4" y="48" width="1.5" height="5" fill="#4a4c50"/><rect x="23.6" y="48" width="1.5" height="5" fill="#4a4c50"/><rect x="26.8" y="48" width="1.5" height="5" fill="#4a4c50"/><rect x="30.0" y="48" width="1.5" height="5" fill="#4a4c50"/><rect x="33.2" y="48" width="1.5" height="5" fill="#4a4c50"/><rect x="36.400000000000006" y="48" width="1.5" height="5" fill="#4a4c50"/><rect x="39.6" y="48" width="1.5" height="5" fill="#4a4c50"/><rect x="42.8" y="48" width="1.5" height="5" fill="#4a4c50"/><rect x="46.0" y="48" width="1.5" height="5" fill="#4a4c50"/><rect x="57" y="47.5" width="30" height="1" fill="#8f9298"/><rect x="57" y="51.1" width="30" height="1" fill="#8f9298"/><rect x="57" y="54.7" width="30" height="1" fill="#8f9298"/><rect x="14" y="62" width="6" height="9" rx="1" fill="none" stroke="#8a8d92" stroke-width="0.8"/><rect x="29.300000000000004" y="61.5" width="6.8" height="9.5" rx="1.5" fill="#f6f7f8"/><circle cx="32.7" cy="67" r="1" fill="#333"/><rect x="46.1" y="61.5" width="6.8" height="9.5" rx="1.5" fill="#f6f7f8"/><circle cx="49.5" cy="67" r="1" fill="#333"/><rect x="62.300000000000004" y="61.5" width="6.8" height="9.5" rx="1.5" fill="#f6f7f8"/><circle cx="65.7" cy="67" r="1" fill="#333"/><rect x="78.8" y="61.5" width="6.8" height="9.5" rx="1.5" fill="#f6f7f8"/><circle cx="82.2" cy="67" r="1" fill="#333"/><rect x="25" y="78.5" width="50" height="2.2" fill="#7e8187"/><rect x="80" y="74" width="6" height="7" fill="#777a80"/><rect x="9.5" y="85.5" width="13.5" height="10.5" fill="#8b8d92"/><rect x="26.2" y="86" width="12.8" height="9.6" fill="#f1f2f4" stroke="#8c8f95" stroke-width="0.6"/><rect x="42.4" y="86" width="12.8" height="9.6" fill="#f1f2f4" stroke="#8c8f95" stroke-width="0.6"/><rect x="58.5" y="86" width="12.8" height="9.6" fill="#f1f2f4" stroke="#8c8f95" stroke-width="0.6"/><rect x="75.8" y="86" width="12.8" height="9.6" fill="#f1f2f4" stroke="#8c8f95" stroke-width="0.6"/><rect x="25" y="99" width="0.9" height="9" fill="#777"/><rect x="57.5" y="99" width="0.9" height="9" fill="#777"/><rect x="74" y="99" width="0.9" height="9" fill="#777"/><rect x="1" y="106.5" width="98" height="52.5" fill="#ececee"/><path d="M4 121 H96 V132 L90 158 H10 L4 132 Z" fill="#dcdde0" stroke="#cfd1d5" stroke-width="0.8"/><rect x="2" y="106.5" width="96" height="3" fill="#d6d8dc"/><rect x="3" y="131" width="4.5" height="5" fill="#3a3a3c"/><rect x="92" y="131" width="4.5" height="5" fill="#3a3a3c"/></g>
<g transform="translate(1129.4,120.5) scale(0.45399999999999996,0.453125)"><rect x="0" y="0" width="100" height="160" rx="3" fill="#eceef0" stroke="#cfd2d7" stroke-width="1.2"/><rect x="4" y="6" width="92" height="50" fill="#dfe2e6" stroke="#c4c8cd" stroke-width="0.8"/><rect x="16" y="14" width="50" height="34" fill="#a4a9a6" stroke="#70757a" stroke-width="1.2"/><rect x="72" y="30" width="10" height="18" rx="4" fill="#f4f5f6" stroke="#555" stroke-width="1.5"/><rect x="4" y="60" width="92" height="48" fill="#e3e5e8" stroke="#c4c8cd" stroke-width="0.8"/><rect x="22" y="84" width="30" height="7" fill="#6e86b8"/><rect x="58" y="80" width="30" height="12" fill="#b9bdc3"/><rect x="12" y="66" width="76" height="2" fill="#b5b9bf"/><rect x="12" y="98" width="76" height="2" fill="#b5b9bf"/><rect x="3" y="112" width="94" height="44" rx="2" fill="#f3f4f6" stroke="#d7dade" stroke-width="0.8"/><circle cx="7" cy="135" r="2.2" fill="#999"/><circle cx="93" cy="135" r="2.2" fill="#999"/></g>
<g transform="translate(1246,550.8) scale(0.36,0.36375)"><rect x="0" y="0" width="100" height="160" rx="3" fill="#eceef0" stroke="#cfd2d7" stroke-width="1.2"/><rect x="4" y="6" width="92" height="50" fill="#dfe2e6" stroke="#c4c8cd" stroke-width="0.8"/><rect x="16" y="14" width="50" height="34" fill="#a4a9a6" stroke="#70757a" stroke-width="1.2"/><rect x="72" y="30" width="10" height="18" rx="4" fill="#f4f5f6" stroke="#555" stroke-width="1.5"/><rect x="4" y="60" width="92" height="48" fill="#e3e5e8" stroke="#c4c8cd" stroke-width="0.8"/><rect x="22" y="84" width="30" height="7" fill="#6e86b8"/><rect x="58" y="80" width="30" height="12" fill="#b9bdc3"/><rect x="12" y="66" width="76" height="2" fill="#b5b9bf"/><rect x="12" y="98" width="76" height="2" fill="#b5b9bf"/><rect x="3" y="112" width="94" height="44" rx="2" fill="#f3f4f6" stroke="#d7dade" stroke-width="0.8"/><circle cx="7" cy="135" r="2.2" fill="#999"/><circle cx="93" cy="135" r="2.2" fill="#999"/></g>
<g transform="translate(1394.6,423.4) scale(0.29,0.29285714285714287)"><rect x="0" y="0" width="100" height="140" rx="3" fill="#e9ebed" stroke="#c6c9ce" stroke-width="1.6"/><rect x="18" y="8" width="64" height="34" fill="#5a5e60" stroke="#9a9da0" stroke-width="2"/><rect x="30" y="46" width="14" height="5" fill="#333"/><rect x="56" y="46" width="14" height="5" fill="#333"/><rect x="8" y="58" width="84" height="40" fill="#dcdfe3" stroke="#a9adb3" stroke-width="1.5"/><rect x="20" y="74" width="52" height="11" fill="#62666c"/><rect x="14" y="62" width="60" height="4" fill="#a9adb3"/><circle cx="84" cy="74" r="5" fill="#777"/><rect x="6" y="104" width="88" height="32" fill="#85888d"/><rect x="8" y="108" width="84" height="4" fill="#e3e5e7"/><rect x="8" y="117" width="84" height="4" fill="#dcdee1"/><rect x="8" y="126" width="84" height="4" fill="#e3e5e7"/><rect x="40" y="104" width="6" height="32" fill="#c9cbce"/></g>
<g transform="translate(1438.4,423.4) scale(0.29,0.29285714285714287)"><rect x="0" y="0" width="100" height="140" rx="3" fill="#e9ebed" stroke="#c6c9ce" stroke-width="1.6"/><rect x="18" y="8" width="64" height="34" fill="#5a5e60" stroke="#9a9da0" stroke-width="2"/><rect x="30" y="46" width="14" height="5" fill="#333"/><rect x="56" y="46" width="14" height="5" fill="#333"/><rect x="8" y="58" width="84" height="40" fill="#dcdfe3" stroke="#a9adb3" stroke-width="1.5"/><rect x="20" y="74" width="52" height="11" fill="#62666c"/><rect x="14" y="62" width="60" height="4" fill="#a9adb3"/><circle cx="84" cy="74" r="5" fill="#777"/><rect x="6" y="104" width="88" height="32" fill="#85888d"/><rect x="8" y="108" width="84" height="4" fill="#e3e5e7"/><rect x="8" y="117" width="84" height="4" fill="#dcdee1"/><rect x="8" y="126" width="84" height="4" fill="#e3e5e7"/><rect x="40" y="104" width="6" height="32" fill="#c9cbce"/></g>
<g transform="translate(1477.4,423.4) scale(0.29,0.29285714285714287)"><rect x="0" y="0" width="100" height="140" rx="3" fill="#e9ebed" stroke="#c6c9ce" stroke-width="1.6"/><rect x="18" y="8" width="64" height="34" fill="#5a5e60" stroke="#9a9da0" stroke-width="2"/><rect x="30" y="46" width="14" height="5" fill="#333"/><rect x="56" y="46" width="14" height="5" fill="#333"/><rect x="8" y="58" width="84" height="40" fill="#dcdfe3" stroke="#a9adb3" stroke-width="1.5"/><rect x="20" y="74" width="52" height="11" fill="#62666c"/><rect x="14" y="62" width="60" height="4" fill="#a9adb3"/><circle cx="84" cy="74" r="5" fill="#777"/><rect x="6" y="104" width="88" height="32" fill="#85888d"/><rect x="8" y="108" width="84" height="4" fill="#e3e5e7"/><rect x="8" y="117" width="84" height="4" fill="#dcdee1"/><rect x="8" y="126" width="84" height="4" fill="#e3e5e7"/><rect x="40" y="104" width="6" height="32" fill="#c9cbce"/></g>
<g transform="translate(1395.6,509.2) scale(0.29,0.29285714285714287)"><rect x="0" y="0" width="100" height="140" rx="3" fill="#e9ebed" stroke="#c6c9ce" stroke-width="1.6"/><rect x="18" y="8" width="64" height="34" fill="#5a5e60" stroke="#9a9da0" stroke-width="2"/><rect x="30" y="46" width="14" height="5" fill="#333"/><rect x="56" y="46" width="14" height="5" fill="#333"/><rect x="8" y="58" width="84" height="40" fill="#dcdfe3" stroke="#a9adb3" stroke-width="1.5"/><rect x="20" y="74" width="52" height="11" fill="#62666c"/><rect x="14" y="62" width="60" height="4" fill="#a9adb3"/><circle cx="84" cy="74" r="5" fill="#777"/><rect x="6" y="104" width="88" height="32" fill="#85888d"/><rect x="8" y="108" width="84" height="4" fill="#e3e5e7"/><rect x="8" y="117" width="84" height="4" fill="#dcdee1"/><rect x="8" y="126" width="84" height="4" fill="#e3e5e7"/><rect x="40" y="104" width="6" height="32" fill="#c9cbce"/></g>
<g transform="translate(1439.6,509.2) scale(0.29,0.29285714285714287)"><rect x="0" y="0" width="100" height="140" rx="3" fill="#e9ebed" stroke="#c6c9ce" stroke-width="1.6"/><rect x="18" y="8" width="64" height="34" fill="#5a5e60" stroke="#9a9da0" stroke-width="2"/><rect x="30" y="46" width="14" height="5" fill="#333"/><rect x="56" y="46" width="14" height="5" fill="#333"/><rect x="8" y="58" width="84" height="40" fill="#dcdfe3" stroke="#a9adb3" stroke-width="1.5"/><rect x="20" y="74" width="52" height="11" fill="#62666c"/><rect x="14" y="62" width="60" height="4" fill="#a9adb3"/><circle cx="84" cy="74" r="5" fill="#777"/><rect x="6" y="104" width="88" height="32" fill="#85888d"/><rect x="8" y="108" width="84" height="4" fill="#e3e5e7"/><rect x="8" y="117" width="84" height="4" fill="#dcdee1"/><rect x="8" y="126" width="84" height="4" fill="#e3e5e7"/><rect x="40" y="104" width="6" height="32" fill="#c9cbce"/></g>
<g transform="translate(1478.4,509.2) scale(0.29,0.29285714285714287)"><rect x="0" y="0" width="100" height="140" rx="3" fill="#e9ebed" stroke="#c6c9ce" stroke-width="1.6"/><rect x="18" y="8" width="64" height="34" fill="#5a5e60" stroke="#9a9da0" stroke-width="2"/><rect x="30" y="46" width="14" height="5" fill="#333"/><rect x="56" y="46" width="14" height="5" fill="#333"/><rect x="8" y="58" width="84" height="40" fill="#dcdfe3" stroke="#a9adb3" stroke-width="1.5"/><rect x="20" y="74" width="52" height="11" fill="#62666c"/><rect x="14" y="62" width="60" height="4" fill="#a9adb3"/><circle cx="84" cy="74" r="5" fill="#777"/><rect x="6" y="104" width="88" height="32" fill="#85888d"/><rect x="8" y="108" width="84" height="4" fill="#e3e5e7"/><rect x="8" y="117" width="84" height="4" fill="#dcdee1"/><rect x="8" y="126" width="84" height="4" fill="#e3e5e7"/><rect x="40" y="104" width="6" height="32" fill="#c9cbce"/></g>
<g transform="translate(1015,135.6) scale(0.278,0.28)"><rect x="0" y="0" width="100" height="190" rx="2" fill="#d9dbdd" stroke="#bfc2c6" stroke-width="1.5"/><rect x="4" y="4" width="92" height="26" fill="#c4c7ca"/><circle cx="20" cy="16" r="3" fill="#e8e9ea" stroke="#999" stroke-width="1"/><circle cx="40" cy="16" r="3" fill="#e8e9ea" stroke="#999" stroke-width="1"/><circle cx="60" cy="16" r="3" fill="#e8e9ea" stroke="#999" stroke-width="1"/><circle cx="80" cy="16" r="3" fill="#e8e9ea" stroke="#999" stroke-width="1"/><rect x="14" y="58" width="60" height="3" fill="#8d9196"/><rect x="14" y="70" width="40" height="3" fill="#8d9196"/><rect x="14" y="92" width="30" height="3" fill="#a2a6ab"/><rect x="60" y="100" width="24" height="3" fill="#a2a6ab"/><rect x="8" y="122" width="84" height="18" fill="#f6f6f6" stroke="#bbb" stroke-width="1"/><rect x="14" y="129" width="70" height="4" fill="#5a6f9a"/><rect x="4" y="160" width="92" height="28" fill="#e9eaeb"/><rect x="38" y="164" width="22" height="20" fill="#c9cbcd" stroke="#888" stroke-width="1.2"/><circle cx="49" cy="174" r="4" fill="#777"/></g>
<g transform="translate(1045.8,452.8) scale(0.276,0.2925714285714286)"><rect x="0" y="0" width="100" height="175" rx="2" fill="#d9ddd8" stroke="#c3c8c2" stroke-width="1.5"/><rect x="3" y="3" width="94" height="18" fill="#b9c0c3"/><rect x="10" y="6" width="7" height="10" fill="#8e979b"/><rect x="22" y="6" width="7" height="10" fill="#8e979b"/><rect x="34" y="6" width="7" height="10" fill="#8e979b"/><rect x="46" y="6" width="7" height="10" fill="#8e979b"/><rect x="58" y="6" width="7" height="10" fill="#8e979b"/><rect x="70" y="6" width="7" height="10" fill="#8e979b"/><rect x="82" y="6" width="7" height="10" fill="#8e979b"/><rect x="12" y="32" width="76" height="100" fill="#e9edef" stroke="#c7cdd0" stroke-width="1"/><rect x="30" y="46" width="40" height="3" fill="#9aa1a6"/><rect x="22" y="64" width="56" height="4" fill="#8c9499"/><rect x="24" y="82" width="52" height="12" fill="#aeb5b9"/><rect x="36" y="104" width="28" height="4" fill="#8c9499"/><rect x="3" y="140" width="94" height="32" fill="#d2d8db"/><rect x="42" y="128" width="14" height="12" fill="#444"/></g>
<g transform="translate(1043.2,559.4) scale(0.276,0.2925714285714286)"><rect x="0" y="0" width="100" height="175" rx="2" fill="#d9ddd8" stroke="#c3c8c2" stroke-width="1.5"/><rect x="3" y="3" width="94" height="18" fill="#b9c0c3"/><rect x="10" y="6" width="7" height="10" fill="#8e979b"/><rect x="22" y="6" width="7" height="10" fill="#8e979b"/><rect x="34" y="6" width="7" height="10" fill="#8e979b"/><rect x="46" y="6" width="7" height="10" fill="#8e979b"/><rect x="58" y="6" width="7" height="10" fill="#8e979b"/><rect x="70" y="6" width="7" height="10" fill="#8e979b"/><rect x="82" y="6" width="7" height="10" fill="#8e979b"/><rect x="12" y="32" width="76" height="100" fill="#e9edef" stroke="#c7cdd0" stroke-width="1"/><rect x="30" y="46" width="40" height="3" fill="#9aa1a6"/><rect x="22" y="64" width="56" height="4" fill="#8c9499"/><rect x="24" y="82" width="52" height="12" fill="#aeb5b9"/><rect x="36" y="104" width="28" height="4" fill="#8c9499"/><rect x="3" y="140" width="94" height="32" fill="#d2d8db"/><rect x="42" y="128" width="14" height="12" fill="#444"/></g>
<g transform="translate(1035,645) scale(0.456,0.42)"><path d="M6 18 L84 2 L98 10 L98 78 L84 92 L2 82 Z" fill="#d9dcdf" stroke="#bcc0c5" stroke-width="1.5"/><path d="M84 2 L98 10 L98 78 L84 92 Z" fill="#b8bcc1"/><path d="M6 18 L84 2 L84 20 L6 34 Z" fill="#eceef0"/><path d="M10 24 L46 17 L46 21 L10 28 Z" fill="#65708a"/><path d="M16 52 L64 46 L64 66 L16 70 Z" fill="#eceef0" stroke="#c4c8cc" stroke-width="1"/><path d="M22 84 L62 89 L62 99 L22 93 Z" fill="#5aa86a"/></g>
<g transform="translate(1032,733) scale(0.45,0.41)"><path d="M6 18 L84 2 L98 10 L98 78 L84 92 L2 82 Z" fill="#d9dcdf" stroke="#bcc0c5" stroke-width="1.5"/><path d="M84 2 L98 10 L98 78 L84 92 Z" fill="#b8bcc1"/><path d="M6 18 L84 2 L84 20 L6 34 Z" fill="#eceef0"/><path d="M10 24 L46 17 L46 21 L10 28 Z" fill="#65708a"/><path d="M16 52 L64 46 L64 66 L16 70 Z" fill="#eceef0" stroke="#c4c8cc" stroke-width="1"/><path d="M22 84 L62 89 L62 99 L22 93 Z" fill="#5aa86a"/></g>
<g transform="translate(1138.4,296.6) scale(0.41600000000000004,0.452)"><rect x="0" y="10" width="100" height="89" rx="1.5" fill="#eef0ee" stroke="#d6d9d6" stroke-width="1.2"/><path d="M9 0 L12 1 L14 7 L22 8 L23 11 L9 11 Z" fill="#55b06a"/><rect x="0" y="36" width="22" height="50" fill="#e4e6e4"/><circle cx="10" cy="45" r="2.4" fill="#555"/><rect x="3" y="60" width="12" height="1.6" fill="#999"/><rect x="2" y="74" width="9" height="9" fill="#c9cbc9"/><circle cx="29.8" cy="21.7" r="3.6" fill="#6c726c"/><circle cx="29.8" cy="89.5" r="3.6" fill="#6c726c"/><circle cx="48.6" cy="21.7" r="3.6" fill="#6c726c"/><circle cx="48.6" cy="89.5" r="3.6" fill="#6c726c"/><circle cx="67.8" cy="21.7" r="3.6" fill="#6c726c"/><circle cx="67.8" cy="89.5" r="3.6" fill="#6c726c"/><circle cx="87.5" cy="21.7" r="3.6" fill="#6c726c"/><circle cx="87.5" cy="89.5" r="3.6" fill="#6c726c"/><rect x="40" y="34.3" width="58" height="2.6" fill="#d8697c"/><rect x="23.900000000000002" y="44.5" width="8.4" height="10" fill="#a5284a"/><rect x="32.300000000000004" y="46" width="7" height="7" fill="#fbfbfb"/><rect x="43.599999999999994" y="44.5" width="8.4" height="10" fill="#a5284a"/><rect x="52.0" y="46" width="7" height="7" fill="#fbfbfb"/><rect x="65.0" y="44.5" width="8.4" height="10" fill="#a5284a"/><rect x="73.4" y="46" width="7" height="7" fill="#fbfbfb"/><rect x="84.7" y="44.5" width="8.4" height="10" fill="#a5284a"/><rect x="93.10000000000001" y="46" width="7" height="7" fill="#fbfbfb"/><rect x="19" y="53" width="81" height="10.8" fill="#c5315a"/><rect x="22" y="64" width="76" height="14" fill="#dfe4df"/><rect x="28" y="66" width="5" height="2.6" fill="#666"/><rect x="48" y="66" width="5" height="2.6" fill="#666"/><rect x="68" y="66" width="5" height="2.6" fill="#666"/><rect x="88" y="66" width="5" height="2.6" fill="#666"/><rect x="30" y="70" width="30" height="1.5" fill="#888"/></g>
<g transform="translate(1602.7,123) scale(0.382,0.408)"><rect x="0" y="10" width="100" height="89" rx="1.5" fill="#eef0ee" stroke="#d6d9d6" stroke-width="1.2"/><path d="M9 0 L12 1 L14 7 L22 8 L23 11 L9 11 Z" fill="#55b06a"/><rect x="0" y="36" width="22" height="50" fill="#e4e6e4"/><circle cx="10" cy="45" r="2.4" fill="#555"/><rect x="3" y="60" width="12" height="1.6" fill="#999"/><rect x="2" y="74" width="9" height="9" fill="#c9cbc9"/><circle cx="29.8" cy="21.7" r="3.6" fill="#6c726c"/><circle cx="29.8" cy="89.5" r="3.6" fill="#6c726c"/><circle cx="48.6" cy="21.7" r="3.6" fill="#6c726c"/><circle cx="48.6" cy="89.5" r="3.6" fill="#6c726c"/><circle cx="67.8" cy="21.7" r="3.6" fill="#6c726c"/><circle cx="67.8" cy="89.5" r="3.6" fill="#6c726c"/><circle cx="87.5" cy="21.7" r="3.6" fill="#6c726c"/><circle cx="87.5" cy="89.5" r="3.6" fill="#6c726c"/><rect x="40" y="34.3" width="58" height="2.6" fill="#d8697c"/><rect x="23.900000000000002" y="44.5" width="8.4" height="10" fill="#a5284a"/><rect x="32.300000000000004" y="46" width="7" height="7" fill="#fbfbfb"/><rect x="43.599999999999994" y="44.5" width="8.4" height="10" fill="#a5284a"/><rect x="52.0" y="46" width="7" height="7" fill="#fbfbfb"/><rect x="65.0" y="44.5" width="8.4" height="10" fill="#a5284a"/><rect x="73.4" y="46" width="7" height="7" fill="#fbfbfb"/><rect x="84.7" y="44.5" width="8.4" height="10" fill="#a5284a"/><rect x="93.10000000000001" y="46" width="7" height="7" fill="#fbfbfb"/><rect x="19" y="53" width="81" height="10.8" fill="#c5315a"/><rect x="22" y="64" width="76" height="14" fill="#dfe4df"/><rect x="28" y="66" width="5" height="2.6" fill="#666"/><rect x="48" y="66" width="5" height="2.6" fill="#666"/><rect x="68" y="66" width="5" height="2.6" fill="#666"/><rect x="88" y="66" width="5" height="2.6" fill="#666"/><rect x="30" y="70" width="30" height="1.5" fill="#888"/></g>
<g transform="translate(1485,252.8) scale(0.37200000000000005,0.359)"><rect x="0" y="0" width="100" height="100" rx="1.5" fill="#f3f3f4" stroke="#dcdde0" stroke-width="1.2"/><circle cx="28.5" cy="10" r="4.6" fill="#e9eaeb" stroke="#9a9da2" stroke-width="1.5"/><circle cx="28.5" cy="89" r="4.6" fill="#e2e3e5" stroke="#9a9da2" stroke-width="1.5"/><rect x="22.5" y="35" width="11" height="13.5" fill="#c2304a"/><circle cx="48.5" cy="10" r="4.6" fill="#e9eaeb" stroke="#9a9da2" stroke-width="1.5"/><circle cx="48.5" cy="89" r="4.6" fill="#e2e3e5" stroke="#9a9da2" stroke-width="1.5"/><rect x="42.5" y="35" width="11" height="13.5" fill="#c2304a"/><circle cx="68.5" cy="10" r="4.6" fill="#e9eaeb" stroke="#9a9da2" stroke-width="1.5"/><circle cx="68.5" cy="89" r="4.6" fill="#e2e3e5" stroke="#9a9da2" stroke-width="1.5"/><rect x="62.5" y="35" width="11" height="13.5" fill="#c2304a"/><circle cx="89" cy="10" r="4.6" fill="#e9eaeb" stroke="#9a9da2" stroke-width="1.5"/><circle cx="89" cy="89" r="4.6" fill="#e2e3e5" stroke="#9a9da2" stroke-width="1.5"/><rect x="83" y="35" width="11" height="13.5" fill="#c2304a"/><rect x="18" y="48" width="80" height="10" fill="#d13a52"/><rect x="40" y="26" width="24" height="2" fill="#888"/><rect x="20" y="60" width="78" height="9" fill="#e4e5e7"/><rect x="24" y="62" width="8" height="3" fill="#e07a50"/><rect x="40" y="62" width="8" height="3" fill="#777"/><rect x="60" y="62" width="8" height="3" fill="#777"/><rect x="3" y="79.5" width="13" height="14" fill="#f2a240"/><rect x="6" y="82.5" width="7" height="8" fill="#fbe3bf"/><rect x="8" y="40" width="3" height="6" fill="#999"/></g>
<g transform="translate(1487.9,136) scale(0.335,0.426)"><path d="M22 0 H90 V100 H22 Z" fill="#f2f2f3" stroke="#d6d8da" stroke-width="1.2"/><path d="M4 8 L22 0 V100 L4 92 Z" fill="#cfd1d4"/><path d="M0 28 L4 26 V70 L0 68 Z" fill="#b8babd"/><circle cx="32.5" cy="9.5" r="3" fill="#2c2c2e"/><circle cx="32.5" cy="90.5" r="3" fill="#2c2c2e"/><rect x="27.0" y="46" width="11" height="25" fill="#fafafa" stroke="#c8c8cc" stroke-width="0.8"/><rect x="27.0" y="44" width="11" height="12" fill="#5158a4"/><path d="M30.5 60 L34.5 68" stroke="#8a8fb8" stroke-width="1.6"/><circle cx="49" cy="9.5" r="3" fill="#2c2c2e"/><circle cx="49" cy="90.5" r="3" fill="#2c2c2e"/><rect x="43.5" y="46" width="11" height="25" fill="#fafafa" stroke="#c8c8cc" stroke-width="0.8"/><rect x="43.5" y="44" width="11" height="12" fill="#5158a4"/><path d="M47 60 L51 68" stroke="#8a8fb8" stroke-width="1.6"/><circle cx="65.5" cy="9.5" r="3" fill="#2c2c2e"/><circle cx="65.5" cy="90.5" r="3" fill="#2c2c2e"/><rect x="60.0" y="46" width="11" height="25" fill="#fafafa" stroke="#c8c8cc" stroke-width="0.8"/><rect x="60.0" y="44" width="11" height="12" fill="#5158a4"/><path d="M63.5 60 L67.5 68" stroke="#8a8fb8" stroke-width="1.6"/><circle cx="84" cy="9.5" r="3" fill="#2c2c2e"/><circle cx="84" cy="90.5" r="3" fill="#2c2c2e"/><rect x="78.5" y="46" width="11" height="25" fill="#fafafa" stroke="#c8c8cc" stroke-width="0.8"/><rect x="78.5" y="44" width="11" height="12" fill="#5158a4"/><path d="M82 60 L86 68" stroke="#8a8fb8" stroke-width="1.6"/><rect x="32" y="33" width="68" height="14.5" fill="#3f4692"/><rect x="24" y="76" width="64" height="1.5" fill="#dcdde0"/></g>
<g><path d="M1370.5 139 L1408.4 152.6 L1393.7 179 L1353.2 163.2 Z" fill="#d0d0cc"/><path d="M1353.2 163.2 L1393.7 179 L1396.3 174.2 L1355.8 158.4 Z" fill="#262626"/><path d="M1357.5 160.2 L1363 162.4 L1361.8 164.8 L1356.3 162.6 Z M1367.5 164.2 L1373 166.4 L1371.8 168.8 L1366.3 166.6 Z M1377.5 168.2 L1383 170.4 L1381.8 172.8 L1376.3 170.6 Z M1387 172 L1392.5 174.2 L1391.3 176.6 L1385.8 174.4 Z" fill="#9a9a96"/><path d="M1380 142.6 L1364 162 M1389.5 146 L1374 166 M1399 149.4 L1384 170" stroke="#2e2e2e" stroke-width="1.5" fill="none"/><path d="M1371.6 137.6 L1407.4 149.8" stroke="#141414" stroke-width="4.6"/><path d="M1384.7 131.6 L1401 137.4 L1397.4 145.3 L1381 140 Z" fill="#1b1b1b"/><path d="M1366 148.5 L1373 151 M1376 152 L1383 154.5 M1386 155.6 L1393 158" stroke="#e4e4e0" stroke-width="2.4" fill="none"/></g>
<g><rect x="1715.4" y="112" width="105.6" height="70.2" fill="url(#gsky)"/><circle cx="1783.6" cy="112.5" r="15" fill="#fff" opacity=".35"/><circle cx="1783.6" cy="112.5" r="8" fill="#fff" opacity=".9"/><ellipse cx="1728" cy="124" rx="8" ry="2.8" fill="#fff" opacity=".9"/><ellipse cx="1751" cy="123.8" rx="11" ry="3.5" fill="#fff" opacity=".92"/><ellipse cx="1770" cy="130" rx="6" ry="1.6" fill="#fff" opacity=".8"/><ellipse cx="1805.5" cy="132.8" rx="14" ry="3.6" fill="#fff" opacity=".92"/><path d="M1715.5 129.9 L1821.0 149.8 L1821.0 152.1 L1759.7 167.7 L1715.5 178.6 Z" fill="url(#gpan)"/><path d="M1759.7 167.7 L1821.0 152.1 L1821.0 182.0 L1739.8 182.0 Z" fill="#6f9d38"/><path d="M1785.6 165.7 L1821.0 157.7 L1821.0 182.0 L1765.7 182.0 Z" fill="#82ad45" opacity=".7"/><path d="M1715.5 178.6 L1759.7 167.7 L1739.8 182.0 L1715.5 182.0 Z" fill="#1c1d18"/><path d="M1715.5 129.9 L1821.0 149.2 M1715.5 140.8 L1821.0 150.2 M1715.5 152.1 L1821.0 151.2 M1715.5 165.3 L1821.0 152.4 M1715.5 178.6 L1821.0 153.6" stroke="#c9cadb" stroke-width="0.8" fill="none" opacity=".85"/><path d="M1716.9 130.1 L1737.8 173.0 M1737.8 134.1 L1759.7 167.5 M1757.7 137.8 L1778.6 162.8 M1774.6 141.0 L1793.5 159.0 M1788.6 143.6 L1804.5 156.3 M1800.5 145.9 L1813.4 154.0 M1809.5 147.6 L1819.4 152.5" stroke="#c9cadb" stroke-width="0.8" fill="none" opacity=".85"/></g>
<rect x="1768.6" y="110.2" width="1.8" height="1.8" fill="#111"/>
<g><path d="M1803 240 L1812 244 L1813 300 L1808 310 L1803 306 Z" fill="#c9ccd0"/><rect x="1807.5" y="246" width="7" height="54" rx="3" fill="#e3e5e7" stroke="#c1c4c8" stroke-width="0.8"/><path d="M1742 246 Q1738 246.5 1738 251 L1738.5 297 Q1739 302 1744 302.6 L1799 306.6 Q1805 307 1805 301 L1804 244 Q1804 238 1798 238.6 Z" fill="#e9ebed" stroke="#cdd0d4" stroke-width="1"/><rect x="1771" y="254" width="5" height="5" fill="none" stroke="#b5b8bc" stroke-width="0.7"/><rect x="1768" y="291" width="10" height="1.6" fill="#7d8a9a"/><rect x="1745" y="302" width="3" height="6" fill="#555"/><rect x="1796" y="306" width="3" height="6" fill="#555"/><rect x="1806" y="302" width="3" height="7" fill="#666"/></g>
<g><circle cx="1246.4" cy="656.4" r="4.6" fill="none" stroke="#2a2a2c" stroke-width="1.5"/><circle cx="1283" cy="656.4" r="4.6" fill="none" stroke="#2a2a2c" stroke-width="1.5"/><rect x="1255.4" y="659" width="19.4" height="44.2" fill="#eeeff0" stroke="#d6d8db" stroke-width="0.8"/><rect x="1263.2" y="662" width="2.8" height="39" fill="#9a9b9e"/><path d="M1254.6 631.6 H1275 V645.5 L1278 647 V659 L1274 661.2 H1256.2 L1251.6 659 V647 L1254.6 645.5 Z" fill="#1e1e20"/><rect x="1259.5" y="639.5" width="11" height="6" fill="#46484d"/><rect x="1256.4" y="633.6" width="6" height="1.2" fill="#777"/></g>
<g><rect x="1244.5" y="731" width="22" height="43" fill="#f1f1f1" stroke="#cfcfd2" stroke-width="0.8"/><rect x="1244.5" y="772" width="22" height="3.4" fill="#d9d9db"/><circle cx="1255.5" cy="736.5" r="2.7" fill="#5c5c60" stroke="#a3a3a6" stroke-width="0.9"/><path d="M1245.5 741.5 H1265.5" stroke="#dcdcde" stroke-width="0.7"/><circle cx="1255.5" cy="746.5" r="2.7" fill="#5c5c60" stroke="#a3a3a6" stroke-width="0.9"/><path d="M1245.5 751.5 H1265.5" stroke="#dcdcde" stroke-width="0.7"/><circle cx="1255.5" cy="756.5" r="2.7" fill="#5c5c60" stroke="#a3a3a6" stroke-width="0.9"/><path d="M1245.5 761.5 H1265.5" stroke="#dcdcde" stroke-width="0.7"/><circle cx="1255.5" cy="766.5" r="2.7" fill="#5c5c60" stroke="#a3a3a6" stroke-width="0.9"/><path d="M1245.5 771.5 H1265.5" stroke="#dcdcde" stroke-width="0.7"/><rect x="1267.5" y="731" width="22" height="43" fill="#f1f1f1" stroke="#cfcfd2" stroke-width="0.8"/><rect x="1267.5" y="772" width="22" height="3.4" fill="#d9d9db"/><circle cx="1278.5" cy="736.5" r="2.7" fill="#5c5c60" stroke="#a3a3a6" stroke-width="0.9"/><path d="M1268.5 741.5 H1288.5" stroke="#dcdcde" stroke-width="0.7"/><circle cx="1278.5" cy="746.5" r="2.7" fill="#5c5c60" stroke="#a3a3a6" stroke-width="0.9"/><path d="M1268.5 751.5 H1288.5" stroke="#dcdcde" stroke-width="0.7"/><circle cx="1278.5" cy="756.5" r="2.7" fill="#5c5c60" stroke="#a3a3a6" stroke-width="0.9"/><path d="M1268.5 761.5 H1288.5" stroke="#dcdcde" stroke-width="0.7"/><circle cx="1278.5" cy="766.5" r="2.7" fill="#5c5c60" stroke="#a3a3a6" stroke-width="0.9"/><path d="M1268.5 771.5 H1288.5" stroke="#dcdcde" stroke-width="0.7"/><rect x="1290.5" y="731" width="22" height="43" fill="#f1f1f1" stroke="#cfcfd2" stroke-width="0.8"/><rect x="1290.5" y="772" width="22" height="3.4" fill="#d9d9db"/><circle cx="1301.5" cy="736.5" r="2.7" fill="#5c5c60" stroke="#a3a3a6" stroke-width="0.9"/><path d="M1291.5 741.5 H1311.5" stroke="#dcdcde" stroke-width="0.7"/><circle cx="1301.5" cy="746.5" r="2.7" fill="#5c5c60" stroke="#a3a3a6" stroke-width="0.9"/><path d="M1291.5 751.5 H1311.5" stroke="#dcdcde" stroke-width="0.7"/><circle cx="1301.5" cy="756.5" r="2.7" fill="#5c5c60" stroke="#a3a3a6" stroke-width="0.9"/><path d="M1291.5 761.5 H1311.5" stroke="#dcdcde" stroke-width="0.7"/><circle cx="1301.5" cy="766.5" r="2.7" fill="#5c5c60" stroke="#a3a3a6" stroke-width="0.9"/><path d="M1291.5 771.5 H1311.5" stroke="#dcdcde" stroke-width="0.7"/><rect x="1313.5" y="731" width="22" height="43" fill="#f1f1f1" stroke="#cfcfd2" stroke-width="0.8"/><rect x="1313.5" y="772" width="22" height="3.4" fill="#d9d9db"/><rect x="1316.5" y="733" width="16" height="7" fill="#c9cacc"/><rect x="1319.5" y="734.2" width="3" height="4.5" fill="#444"/><path d="M1314.5 741.5 H1334.5" stroke="#dcdcde" stroke-width="0.7"/><circle cx="1324.5" cy="746.5" r="2.7" fill="#5c5c60" stroke="#a3a3a6" stroke-width="0.9"/><path d="M1314.5 751.5 H1334.5" stroke="#dcdcde" stroke-width="0.7"/><circle cx="1324.5" cy="756.5" r="2.7" fill="#5c5c60" stroke="#a3a3a6" stroke-width="0.9"/><path d="M1314.5 761.5 H1334.5" stroke="#dcdcde" stroke-width="0.7"/><circle cx="1324.5" cy="766.5" r="2.7" fill="#5c5c60" stroke="#a3a3a6" stroke-width="0.9"/><path d="M1314.5 771.5 H1334.5" stroke="#dcdcde" stroke-width="0.7"/></g>
<rect x="980.40" y="811.20" width="895.20" height="130.40" rx="0" fill="none" stroke="#aeb6c0" stroke-width="1" stroke-dasharray="4.6 2.6" />
<rect x="981.80" y="962.00" width="894.70" height="74.60" rx="0" fill="none" stroke="#aeb6c0" stroke-width="1" stroke-dasharray="4.6 2.6" />
<rect x="981.80" y="1052.70" width="894.70" height="74.70" rx="0" fill="none" stroke="#aeb6c0" stroke-width="1" stroke-dasharray="4.6 2.6" />
</svg>
<div class="t" style="left:372.2px;top:47.6px;font-size:26px;color:#1c1c1c;-webkit-box-reflect:below -6.5px linear-gradient(transparent 42%,rgba(255,255,255,.1) 60%,rgba(255,255,255,.6));">智能台区解决方案</div>
<div class="pl" style="left:41px;top:87.5px;width:720px;">以电鸿物联网平台为基础，以台区终端/融合终端为数据汇聚和分布式计算中心，辅以智能物联断路器、末端感知</div>
<div class="pl" style="left:29.5px;top:113.7px;width:727.5px;">装置、智能电表、智能传感器等低功耗、环保型感知设备，基于人工智能技术对采集到的配用电台区数据进行归类</div>
<div class="pl" style="left:29.5px;top:140.4px;width:727.5px;">治理、深度学习、决策调控，统筹解决配用电台区设备融合、智能感知、数据贯通、数字运维、主动抢修、能源消</div>
<div class="pl" style="left:29.5px;top:166.2px;width:578.5px;">纳等问题，打造智能配用电台区内的“数据全采集、状态全感知、业务全穿透”生态链体系。</div>
<div class="t" style="left:166.4px;top:207.9px;font-size:7.2px;color:#2a3a80;font-weight:bold;">微网控制系统</div>
<div class="t" style="left:103.45px;top:231.95px;font-size:7.2px;color:#2a3a80;font-weight:bold;">可观可测可调可控</div>
<div class="t" style="left:225.2px;top:232.55px;font-size:7.2px;color:#2a3a80;font-weight:bold;">企业能源管理系统</div>
<div class="t" style="left:126.39999999999999px;top:259.0px;font-size:7.2px;color:#2a3a80;font-weight:bold;">充电场站控制系统</div>
<div class="t" style="left:180px;top:286.5px;font-size:7.2px;color:#2a3a80;font-weight:bold;">微网计量收费系统</div>
<div class="t" style="left:158.5px;top:387.6px;font-size:25.6px;color:#1c1c1c;">电鸿物联网平台</div>
<div class="t" style="left:450.2px;top:222.2px;font-size:10.8px;color:#fff;font-weight:bold;">数据分析与应用</div>
<div class="t" style="left:440.6px;top:278.3px;font-size:11px;color:#fff;font-weight:bold;">APP应用中心</div>
<div class="t" style="left:440.4px;top:332.8px;font-size:11px;color:#fff;font-weight:bold;">异常故障告警</div>
<div class="t" style="left:634.4px;top:221.8px;font-size:10.8px;color:#fff;font-weight:bold;">档案管理</div>
<div class="t" style="left:637.2px;top:274.7px;font-size:11px;color:#fff;font-weight:bold;">用户行为分析</div>
<div class="t" style="left:637.2px;top:332.5px;font-size:11px;color:#fff;font-weight:bold;">电鸿安全认证</div>
<div class="tl" style="left:298.3px;top:488.7px;font-size:28.6px;color:#445d8f;font-weight:bold;transform:translate(0,-50%) scaleX(.915);transform-origin:0 50%;">GPRS /4G/5G/Ethernet</div>
<div class="t" style="left:140px;top:773.5px;font-size:17.2px;color:#1c1c1c;">智能台区设备</div>
<div class="chip" style="left:265.5px;top:608px;width:107.0px;height:24.799999999999955px;line-height:23.799999999999955px;padding-left:3px;">通讯协议APP</div>
<div class="chip" style="left:384px;top:608px;width:140.79999999999995px;height:24.799999999999955px;line-height:23.799999999999955px;padding-left:3px;">交流数据采集APP</div>
<div class="chip" style="left:536px;top:608px;width:119px;height:24.799999999999955px;line-height:23.799999999999955px;padding-left:3px;">充电桩管理APP</div>
<div class="chip" style="left:264.3px;top:643.7px;width:108.19999999999999px;height:27.299999999999955px;line-height:26.299999999999955px;padding-left:3px;">异常告警APP</div>
<div class="chip" style="left:384px;top:644.5px;width:140.79999999999995px;height:27.5px;line-height:26.5px;padding-left:3px;">环境数据采集APP</div>
<div class="chip" style="left:536px;top:644.5px;width:119px;height:27.5px;line-height:26.5px;padding-left:3px;">分布式光伏APP</div>
<div class="chip" style="left:266px;top:682.6px;width:106.5px;height:27.399999999999977px;line-height:26.399999999999977px;padding-left:3px;">负荷调节APP</div>
<div class="chip" style="left:384.7px;top:683.5px;width:140.59999999999997px;height:27.5px;line-height:26.5px;padding-left:3px;">运行日志分析APP</div>
<div class="chip" style="left:538.7px;top:685px;width:114.69999999999993px;height:26px;line-height:25px;padding-left:3px;">.............</div>
<div class="chip" style="left:264.3px;top:717px;width:390.7px;height:26.299999999999955px;line-height:25.299999999999955px;padding-left:3px;">电鸿物联操作系统PEE</div>
<div class="chip" style="left:264.3px;top:755px;width:107.69999999999999px;height:26.700000000000045px;line-height:25.700000000000045px;padding-left:3px;">宽带载波HPLC</div>
<div class="chip" style="left:407.2px;top:752.8px;width:108.80000000000001px;height:27.200000000000045px;line-height:26.200000000000045px;padding-left:3px;">双模载波HRF</div>
<div class="chip" style="left:546.8px;top:752px;width:108.20000000000005px;height:26.700000000000045px;line-height:25.700000000000045px;padding-left:3px;">RS485</div>
<div class="t" style="left:210px;top:861.5px;font-size:19.5px;color:#1c1c1c;">台区侧</div>
<div class="t" style="left:462px;top:856.5px;font-size:19.8px;color:#1c1c1c;">低压侧</div>
<div class="t" style="left:648px;top:856.5px;font-size:19.8px;color:#1c1c1c;">用户侧</div>
<div class="bbox" style="left:54.2px;top:887.4px;width:319.8px;height:224px;"></div>
<div class="bbox" style="left:389.6px;top:886.2px;width:150.8px;height:223.6px;"></div>
<div class="bbox" style="left:556.4px;top:886.2px;width:188.4px;height:223.6px;"></div>
<div class="t" style="left:108.3px;top:971.2px;font-size:15px;color:#262626;">无功补偿</div>
<div class="t" style="left:210.4px;top:971.2px;font-size:15px;color:#262626;">台区总保</div>
<div class="t" style="left:315.2px;top:971.2px;font-size:15px;color:#262626;">台区总表</div>
<div class="t" style="left:108.3px;top:1064px;font-size:15px;color:#262626;">进线开关</div>
<div class="t" style="left:210.4px;top:1064px;font-size:15px;color:#262626;">环境监测</div>
<div class="t" style="left:315.2px;top:1064px;font-size:15px;color:#262626;">出线开关</div>
<div class="t" style="left:463.7px;top:971.2px;font-size:15px;color:#262626;">分支漏保</div>
<div class="t" style="left:463.7px;top:1064px;font-size:15px;color:#262626;">换相开关</div>
<div class="t" style="left:599.6px;top:971.2px;font-size:15px;color:#262626;">智能电表</div>
<div class="t" style="left:697.6px;top:971.2px;font-size:15px;color:#262626;">分布式光伏</div>
<div class="t" style="left:599.6px;top:1064px;font-size:15px;color:#262626;">用户家保</div>
<div class="t" style="left:697.6px;top:1064px;font-size:15px;color:#262626;">充电桩</div>
<div class="tl" style="left:786px;top:22px;font-size:22px;color:#4a70a8;font-weight:bold;letter-spacing:1.15px;">智能台区设备能力全景图</div>
<div class="tl" style="left:983.4px;top:66.3px;font-size:16.6px;color:#000;font-weight:bold;letter-spacing:0.7px;">A B C N</div>
<div class="t" style="left:1217.3px;top:78.3px;font-size:14.3px;color:#111;font-weight:bold;">光伏计量箱</div>
<div class="t" style="left:1605.6px;top:78.3px;font-size:14.3px;color:#111;font-weight:bold;">光伏并网箱</div>
<div class="t" style="left:1023.2px;top:107.5px;font-size:11.55px;color:#1e1e1e;">协议转换单元</div>
<div class="t" style="left:1149px;top:109.4px;font-size:11.55px;color:#1e1e1e;">电能表</div>
<div class="t" style="left:1204.4px;top:295.4px;font-size:11.55px;color:#1e1e1e;">智能断路器</div>
<div class="t" style="left:1083.6px;top:303.5px;font-size:11.55px;color:#d9544e;">控制反馈</div>
<div class="t" style="left:947px;top:377.4px;font-size:14.5px;color:#111;">HPLC</div>
<div class="t" style="left:820.6px;top:373.4px;font-size:17px;color:#1c1c1c;">台区设备</div>
<div class="t" style="left:1381.7px;top:110.5px;font-size:11.55px;color:#1e1e1e;">隔离开关</div>
<div class="t" style="left:1502.3px;top:112.0px;font-size:11.55px;color:#1e1e1e;">浪涌开关</div>
<div class="t" style="left:1613.5px;top:110.5px;font-size:11.55px;color:#1e1e1e;">光伏防孤岛开关</div>
<div class="t" style="left:1772px;top:100.4px;font-size:11.55px;color:#1e1e1e;">光伏组件</div>
<div class="t" style="left:1816px;top:226.0px;font-size:11.55px;color:#1e1e1e;">光伏逆变器</div>
<div class="t" style="left:1451.3px;top:279.0px;font-size:11.55px;color:#1e1e1e;">浪涌保护器</div>
<div class="t" style="left:1869.8px;top:228.5px;font-size:13.6px;line-height:14.45px;color:#1e1e1e;text-align:center;">分<br>布<br>式<br>光<br>伏<br>调<br>控</div>
<div class="t" style="left:1069.2px;top:435.2px;font-size:11.55px;color:#1e1e1e;">分支监测网关</div>
<div class="t" style="left:1204.3px;top:456.2px;font-size:11.55px;color:#1e1e1e;">居民用户</div>
<div class="t" style="left:1063.5px;top:542.0px;font-size:11.55px;color:#1e1e1e;">分支监测网关</div>
<div class="t" style="left:1176.5px;top:569.2px;font-size:11.55px;color:#1e1e1e;">工/商业用户</div>
<div class="t" style="left:1312.2px;top:584.0px;font-size:11.55px;color:#1e1e1e;">三相表</div>
<div class="t" style="left:1059.9px;top:631.5px;font-size:11.55px;color:#1e1e1e;">柔性调控终端</div>
<div class="t" style="left:1315px;top:669.7px;font-size:11.55px;color:#1e1e1e;">充电桩</div>
<div class="t" style="left:1055.5px;top:723.2px;font-size:11.55px;color:#1e1e1e;">柔性调控终端</div>
<div class="t" style="left:1369.6px;top:754.0px;font-size:11.55px;color:#1e1e1e;">储能一体机</div>
<div class="t" style="left:1457px;top:491.0px;font-size:11.55px;color:#1e1e1e;">智能物联表箱</div>
<div class="t" style="left:1620.2px;top:502.0px;font-size:13.6px;line-height:14.35px;color:#1e1e1e;text-align:center;">智<br>能<br>线<br>损<br>分<br>析</div>
<div class="t" style="left:1619.5px;top:666.2px;font-size:13.6px;line-height:14.1px;color:#1e1e1e;text-align:center;">充<br>电<br>桩<br>管<br>理</div>
<div class="t" style="left:1621px;top:747.0px;font-size:13.6px;line-height:14.1px;color:#1e1e1e;text-align:center;">能<br>储<br>管<br>理</div>
<div class="glab" style="left:790.6px;top:812.4px;width:171.19999999999993px;height:130.20000000000005px;"></div>
<div class="t" style="left:876.8px;top:877.4px;font-size:20.2px;color:#ffffff;">行业方案</div>
<div class="glab" style="left:790px;top:961px;width:170px;height:73.79999999999995px;"></div>
<div class="t" style="left:875.3px;top:997.5px;font-size:20.2px;color:#ffffff;">智能应用</div>
<div class="glab" style="left:788.4px;top:1053.6px;width:170.39999999999998px;height:74.0px;"></div>
<div class="t" style="left:873.7px;top:1090.5px;font-size:20.2px;color:#ffffff;">专业能力</div>
<div class="gchip" style="left:993px;top:816px;width:170.6px;height:52.0px;line-height:52.0px;font-size:20px;color:#4a6492;overflow:hidden;">电力负荷预测</div>
<div class="gchip" style="left:1184.8px;top:819px;width:201.6px;height:52.4px;line-height:52.4px;font-size:20px;color:#4a6492;overflow:hidden;">分布式光伏管理</div>
<div class="gchip" style="left:1416px;top:818.5px;width:216.4px;height:51.3px;line-height:51.3px;font-size:20px;color:#4a6492;overflow:hidden;">充电桩有序充电</div>
<div class="gchip" style="left:1664px;top:816px;width:184.0px;height:52.5px;line-height:52.5px;font-size:20px;color:#4a6492;overflow:hidden;">城市智慧照明</div>
<div class="gchip" style="left:991px;top:881px;width:171.0px;height:52.0px;line-height:52.0px;font-size:20px;color:#4a6492;overflow:hidden;">储能设备管理</div>
<div class="gchip" style="left:1184px;top:879px;width:202.0px;height:52.5px;line-height:52.5px;font-size:20px;color:#4a6492;overflow:hidden;">家庭智慧用能</div>
<div class="gchip" style="left:1417px;top:877px;width:216.4px;height:51.7px;line-height:51.7px;font-size:20px;color:#4a6492;overflow:hidden;">站房（基站）监测</div>
<div class="gchip" style="left:1664.4px;top:878px;width:184.0px;height:51.6px;line-height:51.6px;font-size:20px;color:#4a6492;overflow:hidden;">智能线损分析</div>
<div class="gchip" style="left:988px;top:972.4px;width:224.7px;height:54.6px;line-height:57.6px;font-size:19.4px;color:#3a5285;overflow:hidden;font-weight:bold;">电力负荷预测调节APP</div>
<div class="gchip" style="left:1230px;top:972.7px;width:225.7px;height:54.3px;line-height:57.3px;font-size:19.4px;color:#3a5285;overflow:hidden;font-weight:bold;">分布式光伏管理APP</div>
<div class="gchip" style="left:1475.7px;top:970.8px;width:186.8px;height:54.8px;line-height:57.8px;font-size:19.4px;color:#3a5285;overflow:hidden;font-weight:bold;">有序充电管理APP</div>
<div class="gchip" style="left:1682px;top:972.4px;width:187.0px;height:54.6px;line-height:57.6px;font-size:19.4px;color:#3a5285;overflow:hidden;font-weight:bold;">线损分析APP</div>
<div class="gchip" style="left:993.9px;top:1060px;width:211.5px;height:52.4px;line-height:52.4px;font-size:20px;color:#4a6492;overflow:hidden;">设备管理能力</div>
<div class="gchip" style="left:1217px;top:1059px;width:212.0px;height:52.4px;line-height:52.4px;font-size:20px;color:#4a6492;overflow:hidden;">网络管理能力</div>
<div class="gchip" style="left:1440.8px;top:1058px;width:212.2px;height:52.5px;line-height:52.5px;font-size:20px;color:#4a6492;overflow:hidden;">应用管理能力</div>
<div class="gchip" style="left:1664px;top:1058.5px;width:213.0px;height:52.3px;line-height:52.3px;font-size:20px;color:#4a6492;overflow:hidden;">数据管理能力</div>
</div>
</body>
</html>
